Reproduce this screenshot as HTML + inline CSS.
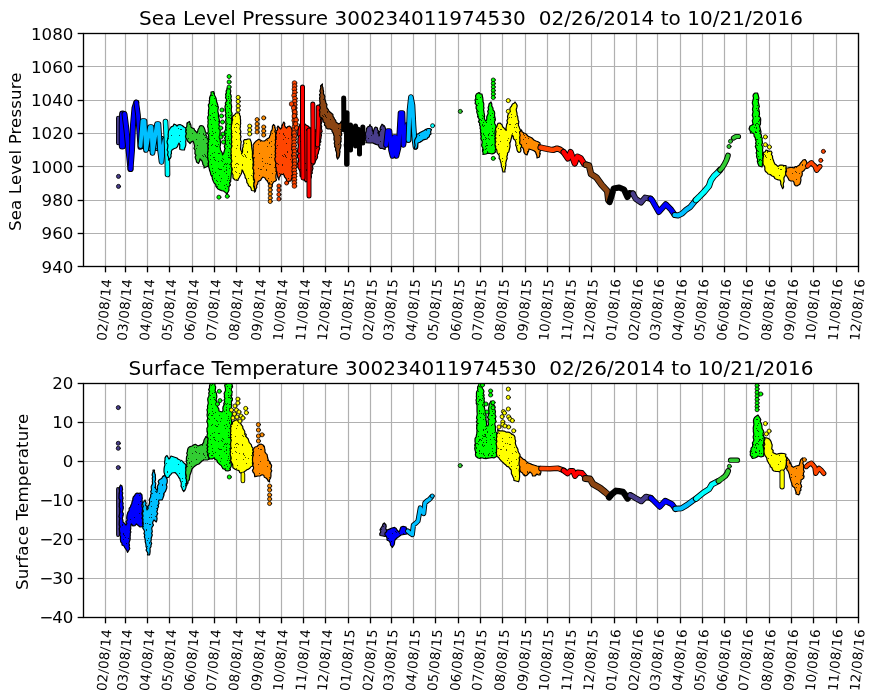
<!DOCTYPE html>
<html><head><meta charset="utf-8"><style>
html,body{margin:0;padding:0;background:#fff;}
svg{display:block;will-change:transform;}
.tk{font-family:'DejaVu Sans', 'Liberation Sans', sans-serif;font-size:16.67px;fill:#000;letter-spacing:0.1px;}
.xt{font-family:'DejaVu Sans', 'Liberation Sans', sans-serif;font-size:13.33px;fill:#000;letter-spacing:0.26px;}
.yt{font-family:'DejaVu Sans', 'Liberation Sans', sans-serif;font-size:16.67px;fill:#000;}
.ti{font-family:'DejaVu Sans', 'Liberation Sans', sans-serif;font-size:20px;fill:#000;letter-spacing:0.04px;}
</style></head><body>
<svg width="877" height="700" viewBox="0 0 877 700">
<defs><pattern id="spk" width="40" height="40" patternUnits="userSpaceOnUse" fill="#000" fill-opacity="0.7"><rect x="20" y="9" width="1" height="1"/><rect x="25" y="3" width="1" height="1"/><rect x="4" y="34" width="1" height="1"/><rect x="6" y="23" width="1" height="1"/><rect x="37" y="3" width="1" height="1"/><rect x="32" y="13" width="1" height="1"/><rect x="2" y="5" width="1" height="1"/><rect x="27" y="26" width="1" height="1"/><rect x="4" y="15" width="1" height="1"/><rect x="5" y="35" width="1" height="1"/><rect x="27" y="3" width="1" height="1"/><rect x="36" y="7" width="1" height="1"/><rect x="14" y="37" width="1" height="1"/><rect x="3" y="36" width="1" height="1"/><rect x="37" y="25" width="1" height="1"/><rect x="3" y="14" width="1" height="1"/><rect x="2" y="35" width="1" height="1"/><rect x="8" y="18" width="1" height="1"/><rect x="26" y="9" width="1" height="1"/><rect x="34" y="7" width="1" height="1"/><rect x="36" y="19" width="1" height="1"/><rect x="35" y="11" width="1" height="1"/><rect x="6" y="37" width="1" height="1"/><rect x="36" y="12" width="1" height="1"/><rect x="23" y="6" width="1" height="1"/><rect x="35" y="4" width="1" height="1"/><rect x="36" y="3" width="1" height="1"/><rect x="39" y="13" width="1" height="1"/><rect x="31" y="34" width="1" height="1"/><rect x="27" y="20" width="1" height="1"/><rect x="29" y="37" width="1" height="1"/><rect x="29" y="23" width="1" height="1"/><rect x="19" y="15" width="1" height="1"/><rect x="11" y="15" width="1" height="1"/><rect x="5" y="36" width="1" height="1"/><rect x="19" y="33" width="1" height="1"/><rect x="31" y="21" width="1" height="1"/><rect x="28" y="18" width="1" height="1"/><rect x="38" y="4" width="1" height="1"/><rect x="7" y="32" width="1" height="1"/><rect x="26" y="10" width="1" height="1"/><rect x="21" y="9" width="1" height="1"/><rect x="31" y="26" width="1" height="1"/><rect x="2" y="4" width="1" height="1"/><rect x="35" y="36" width="1" height="1"/><rect x="20" y="21" width="1" height="1"/><rect x="22" y="38" width="1" height="1"/><rect x="31" y="37" width="1" height="1"/><rect x="29" y="4" width="1" height="1"/><rect x="5" y="17" width="1" height="1"/><rect x="30" y="4" width="1" height="1"/><rect x="3" y="19" width="1" height="1"/><rect x="36" y="28" width="1" height="1"/><rect x="18" y="24" width="1" height="1"/><rect x="22" y="1" width="1" height="1"/><rect x="29" y="22" width="1" height="1"/><rect x="10" y="39" width="1" height="1"/><rect x="7" y="31" width="1" height="1"/><rect x="3" y="13" width="1" height="1"/><rect x="18" y="8" width="1" height="1"/></pattern><pattern id="spk2" width="40" height="40" patternUnits="userSpaceOnUse" fill="#000" fill-opacity="0.75"><rect x="28" y="35" width="1" height="1"/><rect x="29" y="28" width="1" height="1"/><rect x="32" y="37" width="1" height="1"/><rect x="12" y="11" width="1" height="1"/><rect x="32" y="30" width="1" height="1"/><rect x="39" y="11" width="1" height="1"/><rect x="6" y="28" width="1" height="1"/><rect x="19" y="9" width="1" height="1"/><rect x="5" y="34" width="1" height="1"/><rect x="2" y="38" width="1" height="1"/><rect x="25" y="28" width="1" height="1"/><rect x="39" y="10" width="1" height="1"/><rect x="39" y="0" width="1" height="1"/><rect x="33" y="4" width="1" height="1"/><rect x="3" y="2" width="1" height="1"/><rect x="12" y="15" width="1" height="1"/><rect x="38" y="1" width="1" height="1"/><rect x="29" y="20" width="1" height="1"/><rect x="28" y="37" width="1" height="1"/><rect x="12" y="33" width="1" height="1"/><rect x="14" y="18" width="1" height="1"/><rect x="31" y="0" width="1" height="1"/><rect x="5" y="29" width="1" height="1"/><rect x="17" y="26" width="1" height="1"/><rect x="35" y="5" width="1" height="1"/><rect x="16" y="20" width="1" height="1"/><rect x="14" y="32" width="1" height="1"/><rect x="18" y="1" width="1" height="1"/><rect x="4" y="36" width="1" height="1"/><rect x="6" y="25" width="1" height="1"/><rect x="6" y="18" width="1" height="1"/><rect x="24" y="4" width="1" height="1"/><rect x="1" y="0" width="1" height="1"/><rect x="13" y="13" width="1" height="1"/><rect x="3" y="30" width="1" height="1"/><rect x="24" y="25" width="1" height="1"/><rect x="26" y="4" width="1" height="1"/><rect x="36" y="12" width="1" height="1"/><rect x="17" y="21" width="1" height="1"/><rect x="5" y="19" width="1" height="1"/><rect x="21" y="0" width="1" height="1"/><rect x="26" y="7" width="1" height="1"/><rect x="8" y="15" width="1" height="1"/><rect x="6" y="0" width="1" height="1"/><rect x="3" y="29" width="1" height="1"/><rect x="31" y="11" width="1" height="1"/><rect x="35" y="12" width="1" height="1"/><rect x="28" y="32" width="1" height="1"/><rect x="12" y="8" width="1" height="1"/><rect x="26" y="24" width="1" height="1"/><rect x="7" y="25" width="1" height="1"/><rect x="26" y="13" width="1" height="1"/><rect x="0" y="17" width="1" height="1"/><rect x="37" y="19" width="1" height="1"/><rect x="1" y="13" width="1" height="1"/><rect x="11" y="25" width="1" height="1"/><rect x="38" y="36" width="1" height="1"/><rect x="6" y="2" width="1" height="1"/><rect x="9" y="13" width="1" height="1"/><rect x="28" y="16" width="1" height="1"/><rect x="0" y="39" width="1" height="1"/><rect x="21" y="18" width="1" height="1"/><rect x="24" y="4" width="1" height="1"/><rect x="4" y="5" width="1" height="1"/><rect x="13" y="37" width="1" height="1"/><rect x="15" y="0" width="1" height="1"/><rect x="38" y="23" width="1" height="1"/><rect x="23" y="39" width="1" height="1"/><rect x="29" y="8" width="1" height="1"/><rect x="37" y="30" width="1" height="1"/><rect x="36" y="8" width="1" height="1"/><rect x="24" y="11" width="1" height="1"/><rect x="9" y="19" width="1" height="1"/><rect x="14" y="39" width="1" height="1"/><rect x="15" y="12" width="1" height="1"/><rect x="10" y="35" width="1" height="1"/><rect x="12" y="24" width="1" height="1"/><rect x="30" y="38" width="1" height="1"/><rect x="5" y="26" width="1" height="1"/><rect x="3" y="6" width="1" height="1"/><rect x="6" y="2" width="1" height="1"/><rect x="32" y="16" width="1" height="1"/><rect x="15" y="25" width="1" height="1"/><rect x="16" y="26" width="1" height="1"/><rect x="38" y="31" width="1" height="1"/><rect x="18" y="33" width="1" height="1"/><rect x="11" y="4" width="1" height="1"/><rect x="8" y="14" width="1" height="1"/><rect x="30" y="35" width="1" height="1"/><rect x="39" y="39" width="1" height="1"/></pattern><clipPath id="c1"><rect x="83.6" y="33.7" width="774.90" height="232.90"/></clipPath>
<clipPath id="c2"><rect x="83.6" y="383.2" width="774.90" height="234.20"/></clipPath></defs>
<line x1="105.5" y1="33.5" x2="105.5" y2="266.5" stroke="#b0b0b0" stroke-width="1.2"/>
<line x1="125.5" y1="33.5" x2="125.5" y2="266.5" stroke="#b0b0b0" stroke-width="1.2"/>
<line x1="147.5" y1="33.5" x2="147.5" y2="266.5" stroke="#b0b0b0" stroke-width="1.2"/>
<line x1="169.5" y1="33.5" x2="169.5" y2="266.5" stroke="#b0b0b0" stroke-width="1.2"/>
<line x1="192.5" y1="33.5" x2="192.5" y2="266.5" stroke="#b0b0b0" stroke-width="1.2"/>
<line x1="214.5" y1="33.5" x2="214.5" y2="266.5" stroke="#b0b0b0" stroke-width="1.2"/>
<line x1="236.5" y1="33.5" x2="236.5" y2="266.5" stroke="#b0b0b0" stroke-width="1.2"/>
<line x1="259.5" y1="33.5" x2="259.5" y2="266.5" stroke="#b0b0b0" stroke-width="1.2"/>
<line x1="281.5" y1="33.5" x2="281.5" y2="266.5" stroke="#b0b0b0" stroke-width="1.2"/>
<line x1="303.5" y1="33.5" x2="303.5" y2="266.5" stroke="#b0b0b0" stroke-width="1.2"/>
<line x1="325.5" y1="33.5" x2="325.5" y2="266.5" stroke="#b0b0b0" stroke-width="1.2"/>
<line x1="348.5" y1="33.5" x2="348.5" y2="266.5" stroke="#b0b0b0" stroke-width="1.2"/>
<line x1="370.5" y1="33.5" x2="370.5" y2="266.5" stroke="#b0b0b0" stroke-width="1.2"/>
<line x1="391.5" y1="33.5" x2="391.5" y2="266.5" stroke="#b0b0b0" stroke-width="1.2"/>
<line x1="413.5" y1="33.5" x2="413.5" y2="266.5" stroke="#b0b0b0" stroke-width="1.2"/>
<line x1="435.5" y1="33.5" x2="435.5" y2="266.5" stroke="#b0b0b0" stroke-width="1.2"/>
<line x1="458.5" y1="33.5" x2="458.5" y2="266.5" stroke="#b0b0b0" stroke-width="1.2"/>
<line x1="480.5" y1="33.5" x2="480.5" y2="266.5" stroke="#b0b0b0" stroke-width="1.2"/>
<line x1="502.5" y1="33.5" x2="502.5" y2="266.5" stroke="#b0b0b0" stroke-width="1.2"/>
<line x1="525.5" y1="33.5" x2="525.5" y2="266.5" stroke="#b0b0b0" stroke-width="1.2"/>
<line x1="547.5" y1="33.5" x2="547.5" y2="266.5" stroke="#b0b0b0" stroke-width="1.2"/>
<line x1="569.5" y1="33.5" x2="569.5" y2="266.5" stroke="#b0b0b0" stroke-width="1.2"/>
<line x1="591.5" y1="33.5" x2="591.5" y2="266.5" stroke="#b0b0b0" stroke-width="1.2"/>
<line x1="614.5" y1="33.5" x2="614.5" y2="266.5" stroke="#b0b0b0" stroke-width="1.2"/>
<line x1="636.5" y1="33.5" x2="636.5" y2="266.5" stroke="#b0b0b0" stroke-width="1.2"/>
<line x1="657.5" y1="33.5" x2="657.5" y2="266.5" stroke="#b0b0b0" stroke-width="1.2"/>
<line x1="680.5" y1="33.5" x2="680.5" y2="266.5" stroke="#b0b0b0" stroke-width="1.2"/>
<line x1="702.5" y1="33.5" x2="702.5" y2="266.5" stroke="#b0b0b0" stroke-width="1.2"/>
<line x1="724.5" y1="33.5" x2="724.5" y2="266.5" stroke="#b0b0b0" stroke-width="1.2"/>
<line x1="746.5" y1="33.5" x2="746.5" y2="266.5" stroke="#b0b0b0" stroke-width="1.2"/>
<line x1="769.5" y1="33.5" x2="769.5" y2="266.5" stroke="#b0b0b0" stroke-width="1.2"/>
<line x1="791.5" y1="33.5" x2="791.5" y2="266.5" stroke="#b0b0b0" stroke-width="1.2"/>
<line x1="813.5" y1="33.5" x2="813.5" y2="266.5" stroke="#b0b0b0" stroke-width="1.2"/>
<line x1="836.5" y1="33.5" x2="836.5" y2="266.5" stroke="#b0b0b0" stroke-width="1.2"/>
<line x1="858.5" y1="33.5" x2="858.5" y2="266.5" stroke="#b0b0b0" stroke-width="1.2"/>
<line x1="83.5" y1="266.5" x2="858.5" y2="266.5" stroke="#b0b0b0" stroke-width="1.2"/>
<line x1="83.5" y1="233.5" x2="858.5" y2="233.5" stroke="#b0b0b0" stroke-width="1.2"/>
<line x1="83.5" y1="200.5" x2="858.5" y2="200.5" stroke="#b0b0b0" stroke-width="1.2"/>
<line x1="83.5" y1="166.5" x2="858.5" y2="166.5" stroke="#b0b0b0" stroke-width="1.2"/>
<line x1="83.5" y1="133.5" x2="858.5" y2="133.5" stroke="#b0b0b0" stroke-width="1.2"/>
<line x1="83.5" y1="100.5" x2="858.5" y2="100.5" stroke="#b0b0b0" stroke-width="1.2"/>
<line x1="83.5" y1="66.5" x2="858.5" y2="66.5" stroke="#b0b0b0" stroke-width="1.2"/>
<line x1="83.5" y1="33.5" x2="858.5" y2="33.5" stroke="#b0b0b0" stroke-width="1.2"/>
<g clip-path="url(#c1)" stroke-linejoin="round" stroke-linecap="round">
<polyline points="118.3,118 118.3,143" fill="none" stroke="#000" stroke-width="4.6"/>
<polyline points="118.3,118 118.3,143" fill="none" stroke="#483D8B" stroke-width="2.8"/>
<circle cx="118.5" cy="176.4" r="2.05" fill="#483D8B" stroke="#000" stroke-width="0.8"/>
<circle cx="118.5" cy="186.4" r="2.05" fill="#483D8B" stroke="#000" stroke-width="0.8"/>
<polyline points="122.3,146 122.3,125 122.6,114" fill="none" stroke="#000" stroke-width="7"/>
<polyline points="122.3,146 122.3,125 122.6,114" fill="none" stroke="#0000FF" stroke-width="5.2"/>
<polyline points="124.5,114 126.5,130 128.5,150 130.5,169" fill="none" stroke="#000" stroke-width="6"/>
<polyline points="124.5,114 126.5,130 128.5,150 130.5,169" fill="none" stroke="#0000FF" stroke-width="4.2"/>
<polyline points="130.5,169 132,150 133,125 134.5,108 136.3,102.5" fill="none" stroke="#000" stroke-width="6"/>
<polyline points="130.5,169 132,150 133,125 134.5,108 136.3,102.5" fill="none" stroke="#0000FF" stroke-width="4.2"/>
<polyline points="136.3,102.5 138,115 139.5,135 140.3,147" fill="none" stroke="#000" stroke-width="5.6"/>
<polyline points="136.3,102.5 138,115 139.5,135 140.3,147" fill="none" stroke="#0000FF" stroke-width="3.8"/>
<polygon points="141,142 142,140.5 143.7,139.7 144.9,138.4 146,137 148.2,136.4 150,135 151.6,134.2 153.3,134 155,134 156.8,133.8 158.4,134.3 160,135 161.1,136.3 163,136.6 164,138 164.2,139.8 164.8,141.6 164.9,143.4 164.9,145.2 165,147 163.1,147.6 161.6,148.9 160,150 158.3,150.7 156.7,150.3 155,150 153.4,150.8 151.6,150.2 150,151 148.4,150.2 146.8,149.9 145,150 143.2,148.6 141,148 141.3,146 141.6,144" fill="#00BFFF" stroke="#000" stroke-width="1.2"/>
<polygon points="141,142 142,140.5 143.7,139.7 144.9,138.4 146,137 148.2,136.4 150,135 151.6,134.2 153.3,134 155,134 156.8,133.8 158.4,134.3 160,135 161.1,136.3 163,136.6 164,138 164.2,139.8 164.8,141.6 164.9,143.4 164.9,145.2 165,147 163.1,147.6 161.6,148.9 160,150 158.3,150.7 156.7,150.3 155,150 153.4,150.8 151.6,150.2 150,151 148.4,150.2 146.8,149.9 145,150 143.2,148.6 141,148 141.3,146 141.6,144" fill="url(#spk)" stroke="none"/>
<polyline points="140.5,146 142.5,121 144.5,121 146,150 148,138 150,127 151.5,127 152.5,153 154.5,140 157,124 158.5,124 160,150 161.5,162 163,148 164.5,140" fill="none" stroke="#000" stroke-width="5.6"/>
<polyline points="140.5,146 142.5,121 144.5,121 146,150 148,138 150,127 151.5,127 152.5,153 154.5,140 157,124 158.5,124 160,150 161.5,162 163,148 164.5,140" fill="none" stroke="#00BFFF" stroke-width="3.8"/>
<polyline points="165.5,121.5 166.5,140 167.3,160 167.5,174.5" fill="none" stroke="#000" stroke-width="5.6"/>
<polyline points="165.5,121.5 166.5,140 167.3,160 167.5,174.5" fill="none" stroke="#00FFFF" stroke-width="3.8"/>
<polygon points="167.5,140 167.9,138.2 168.3,136.4 168.1,134.6 168.3,132.8 168.5,131 170,128.5 171.2,126.9 173.2,126 174,124 175.7,124.8 177,126 178.3,124.8 180,124.5 182.2,125.5 184,127 186,128 186.3,129.7 186.2,131.4 186.3,133.1 186.5,134.9 186.2,136.6 186.3,138.3 186,140 185.7,141.7 185.9,143.4 185.8,145.1 185.4,146.7 184.7,148.3 184.5,150 182,150 180,149.5 179.6,147.9 179.8,146.2 179.7,144.6 179,143 178.1,144.7 177.5,146.6 176,148 173.9,148.7 172,150 171.3,151.5 171.5,153.2 170.9,154.8 171.1,156.5 170.5,158 168.5,160 168.7,158.2 168.3,156.6 167.5,155 167.9,153.3 168.1,151.7 167.1,150 167.6,148.3 167.8,146.7 167.9,145 167.3,143.3 167,141.7" fill="#00FFFF" stroke="#000" stroke-width="1.2"/>
<polygon points="167.5,140 167.9,138.2 168.3,136.4 168.1,134.6 168.3,132.8 168.5,131 170,128.5 171.2,126.9 173.2,126 174,124 175.7,124.8 177,126 178.3,124.8 180,124.5 182.2,125.5 184,127 186,128 186.3,129.7 186.2,131.4 186.3,133.1 186.5,134.9 186.2,136.6 186.3,138.3 186,140 185.7,141.7 185.9,143.4 185.8,145.1 185.4,146.7 184.7,148.3 184.5,150 182,150 180,149.5 179.6,147.9 179.8,146.2 179.7,144.6 179,143 178.1,144.7 177.5,146.6 176,148 173.9,148.7 172,150 171.3,151.5 171.5,153.2 170.9,154.8 171.1,156.5 170.5,158 168.5,160 168.7,158.2 168.3,156.6 167.5,155 167.9,153.3 168.1,151.7 167.1,150 167.6,148.3 167.8,146.7 167.9,145 167.3,143.3 167,141.7" fill="url(#spk)" stroke="none"/>
<polygon points="186,130 185.8,128.2 186.8,126.5 186.9,124.8 187,123 189.5,121.5 190,123.3 190.9,125.1 191,127 192.3,128.1 194,128.5 194.6,130.2 196,131.5 197,133 197.7,131.3 198,129.5 199,128 199.5,126.3 201,125.5 203,126 204.2,127.9 205,130 205.3,131.6 206.4,133.1 205.8,134.9 207,136.3 207,138 208.5,140 208.9,141.7 209.1,143.3 207.8,145 208.2,146.7 208,148.3 208.3,150 209.2,151.7 208.7,153.3 208.5,155 209,156.7 207.9,158.3 208.7,160 209,161.7 208.1,163.3 208.5,165 207.6,166.4 206,167 204,168 204.1,166.1 202.9,164.5 202.6,162.7 202,161 200,159 199.5,161.3 198.5,163.5 196.5,162 196.2,160.3 195.6,158.7 195.1,157.1 196,155.3 194.9,153.7 195,152 195.1,150.1 193.9,148.4 194.6,146.4 194.2,144.6 193.7,142.8 193,141 191.3,142 190,143.5 188.8,142.2 187.5,141 187,139.4 186,138 185.5,136.4 186,134.8 186.5,133.2 185.6,131.6" fill="#32CD32" stroke="#000" stroke-width="1.2"/>
<polygon points="186,130 185.8,128.2 186.8,126.5 186.9,124.8 187,123 189.5,121.5 190,123.3 190.9,125.1 191,127 192.3,128.1 194,128.5 194.6,130.2 196,131.5 197,133 197.7,131.3 198,129.5 199,128 199.5,126.3 201,125.5 203,126 204.2,127.9 205,130 205.3,131.6 206.4,133.1 205.8,134.9 207,136.3 207,138 208.5,140 208.9,141.7 209.1,143.3 207.8,145 208.2,146.7 208,148.3 208.3,150 209.2,151.7 208.7,153.3 208.5,155 209,156.7 207.9,158.3 208.7,160 209,161.7 208.1,163.3 208.5,165 207.6,166.4 206,167 204,168 204.1,166.1 202.9,164.5 202.6,162.7 202,161 200,159 199.5,161.3 198.5,163.5 196.5,162 196.2,160.3 195.6,158.7 195.1,157.1 196,155.3 194.9,153.7 195,152 195.1,150.1 193.9,148.4 194.6,146.4 194.2,144.6 193.7,142.8 193,141 191.3,142 190,143.5 188.8,142.2 187.5,141 187,139.4 186,138 185.5,136.4 186,134.8 186.5,133.2 185.6,131.6" fill="url(#spk)" stroke="none"/>
<polygon points="208,140 208.6,138.3 208.7,136.7 208.6,135 207.5,133.3 208.3,131.7 208.1,130 208.2,128.3 207.7,126.7 207.8,125 208.2,123.3 207.9,121.7 208.3,120 207.7,118.3 207.8,116.7 208.7,115 208.3,113.3 208.5,111.7 208.5,110 209,108.3 208.6,106.6 208.3,104.8 209.5,103.2 209.3,101.4 209.6,99.7 209.5,98 210.2,96 211.1,94.2 211,92 213.5,91.5 214.3,93.3 214.5,95.3 215.5,97 216.2,98.7 216.4,100.5 216.8,102.3 217.5,104 217.9,105.7 218.4,107.4 218,109.2 217.8,111 218.2,112.8 218.5,114.5 218.4,116.3 218.8,118 219.3,119.7 219.4,121.4 219.3,123.1 218.8,124.8 219.7,126.5 219.9,128.2 220.1,129.9 220.2,131.6 220,133.3 219.8,135 219.8,136.7 219.5,138.4 220.3,140 220.3,141.7 220.5,143.3 220.5,145 220,146.7 220.4,148.3 220.5,150 221.5,151.5 222.3,153.1 222.5,155 223.5,153.5 224.1,151.8 224.5,150 225,148.4 224.3,146.7 224.8,145 225.4,143.4 225,141.7 225.5,140 224.5,138.3 225.7,136.7 224.5,135 225,133.3 224.6,131.6 225.3,130 225.8,128.3 225.6,126.7 226,125 225.8,123.3 226,121.7 225.5,120 226.1,118.3 225.8,116.7 225.2,115 226.1,113.3 225.3,111.7 225.5,110 225.1,108.2 225,106.5 225.6,104.7 225.3,103 226.4,101.3 226.5,99.5 225.5,97.7 226,96 225.6,94.3 226.4,92.8 226.1,91.1 226.9,89.6 227,88 230,87 229.8,88.7 230.7,90.2 230.7,91.9 230.2,93.6 231,95.1 231.3,96.7 230.8,98.4 231.5,100 231.1,101.7 231,103.3 231.3,105 231.7,106.7 231.4,108.3 231.2,110 231.5,111.7 232.1,113.3 232,115 231.9,116.7 231.4,118.3 231.8,120 231.8,121.7 231.4,123.3 232.5,125 231.8,126.7 232.2,128.3 232,130 231.9,131.6 231.5,133.2 232.4,134.8 231.4,136.4 232.6,138 231.9,139.6 231.9,141.2 232.4,142.8 231.9,144.4 232,146 232.1,147.6 231.7,149.2 232.7,150.8 232.2,152.4 231.6,154 232.5,155.6 231.5,157.2 232.4,158.8 231.7,160.4 232.5,162 232.1,163.6 232.1,165.2 232.6,166.8 231.7,168.4 232,170 231.8,171.6 231.3,173.2 231.3,174.8 231.1,176.4 231,178 230.7,179.7 230.7,181.5 229.6,183.1 230.4,185 229.1,186.5 228.8,188.2 229,190 228.4,191.5 227.5,192.9 227.3,194.5 226.2,193.2 224.9,192.1 223.6,191 221.6,190.6 219.8,189.9 218,189 216.9,187.7 215.9,186.3 215.8,184.4 214.3,183.3 213.5,181.8 212.9,180.3 212.3,178.7 212.2,176.9 211.2,175.6 210.6,174 210.3,172.2 209.6,170.6 209.3,168.8 208.7,167.1 208.6,165.3 208.3,163.6 208.8,161.7 208,160 208,158.3 207.5,156.7 207.9,155 207.5,153.3 208.1,151.7 207.9,150 208.5,148.3 207.7,146.7 208.5,145 207.6,143.3 208.7,141.7" fill="#00FF00" stroke="#000" stroke-width="1.2"/>
<polygon points="208,140 208.6,138.3 208.7,136.7 208.6,135 207.5,133.3 208.3,131.7 208.1,130 208.2,128.3 207.7,126.7 207.8,125 208.2,123.3 207.9,121.7 208.3,120 207.7,118.3 207.8,116.7 208.7,115 208.3,113.3 208.5,111.7 208.5,110 209,108.3 208.6,106.6 208.3,104.8 209.5,103.2 209.3,101.4 209.6,99.7 209.5,98 210.2,96 211.1,94.2 211,92 213.5,91.5 214.3,93.3 214.5,95.3 215.5,97 216.2,98.7 216.4,100.5 216.8,102.3 217.5,104 217.9,105.7 218.4,107.4 218,109.2 217.8,111 218.2,112.8 218.5,114.5 218.4,116.3 218.8,118 219.3,119.7 219.4,121.4 219.3,123.1 218.8,124.8 219.7,126.5 219.9,128.2 220.1,129.9 220.2,131.6 220,133.3 219.8,135 219.8,136.7 219.5,138.4 220.3,140 220.3,141.7 220.5,143.3 220.5,145 220,146.7 220.4,148.3 220.5,150 221.5,151.5 222.3,153.1 222.5,155 223.5,153.5 224.1,151.8 224.5,150 225,148.4 224.3,146.7 224.8,145 225.4,143.4 225,141.7 225.5,140 224.5,138.3 225.7,136.7 224.5,135 225,133.3 224.6,131.6 225.3,130 225.8,128.3 225.6,126.7 226,125 225.8,123.3 226,121.7 225.5,120 226.1,118.3 225.8,116.7 225.2,115 226.1,113.3 225.3,111.7 225.5,110 225.1,108.2 225,106.5 225.6,104.7 225.3,103 226.4,101.3 226.5,99.5 225.5,97.7 226,96 225.6,94.3 226.4,92.8 226.1,91.1 226.9,89.6 227,88 230,87 229.8,88.7 230.7,90.2 230.7,91.9 230.2,93.6 231,95.1 231.3,96.7 230.8,98.4 231.5,100 231.1,101.7 231,103.3 231.3,105 231.7,106.7 231.4,108.3 231.2,110 231.5,111.7 232.1,113.3 232,115 231.9,116.7 231.4,118.3 231.8,120 231.8,121.7 231.4,123.3 232.5,125 231.8,126.7 232.2,128.3 232,130 231.9,131.6 231.5,133.2 232.4,134.8 231.4,136.4 232.6,138 231.9,139.6 231.9,141.2 232.4,142.8 231.9,144.4 232,146 232.1,147.6 231.7,149.2 232.7,150.8 232.2,152.4 231.6,154 232.5,155.6 231.5,157.2 232.4,158.8 231.7,160.4 232.5,162 232.1,163.6 232.1,165.2 232.6,166.8 231.7,168.4 232,170 231.8,171.6 231.3,173.2 231.3,174.8 231.1,176.4 231,178 230.7,179.7 230.7,181.5 229.6,183.1 230.4,185 229.1,186.5 228.8,188.2 229,190 228.4,191.5 227.5,192.9 227.3,194.5 226.2,193.2 224.9,192.1 223.6,191 221.6,190.6 219.8,189.9 218,189 216.9,187.7 215.9,186.3 215.8,184.4 214.3,183.3 213.5,181.8 212.9,180.3 212.3,178.7 212.2,176.9 211.2,175.6 210.6,174 210.3,172.2 209.6,170.6 209.3,168.8 208.7,167.1 208.6,165.3 208.3,163.6 208.8,161.7 208,160 208,158.3 207.5,156.7 207.9,155 207.5,153.3 208.1,151.7 207.9,150 208.5,148.3 207.7,146.7 208.5,145 207.6,143.3 208.7,141.7" fill="url(#spk)" stroke="none"/>
<polygon points="208,140 208.6,138.3 208.7,136.7 208.6,135 207.5,133.3 208.3,131.7 208.1,130 208.2,128.3 207.7,126.7 207.8,125 208.2,123.3 207.9,121.7 208.3,120 207.7,118.3 207.8,116.7 208.7,115 208.3,113.3 208.5,111.7 208.5,110 209,108.3 208.6,106.6 208.3,104.8 209.5,103.2 209.3,101.4 209.6,99.7 209.5,98 210.2,96 211.1,94.2 211,92 213.5,91.5 214.3,93.3 214.5,95.3 215.5,97 216.2,98.7 216.4,100.5 216.8,102.3 217.5,104 217.9,105.7 218.4,107.4 218,109.2 217.8,111 218.2,112.8 218.5,114.5 218.4,116.3 218.8,118 219.3,119.7 219.4,121.4 219.3,123.1 218.8,124.8 219.7,126.5 219.9,128.2 220.1,129.9 220.2,131.6 220,133.3 219.8,135 219.8,136.7 219.5,138.4 220.3,140 220.3,141.7 220.5,143.3 220.5,145 220,146.7 220.4,148.3 220.5,150 221.5,151.5 222.3,153.1 222.5,155 223.5,153.5 224.1,151.8 224.5,150 225,148.4 224.3,146.7 224.8,145 225.4,143.4 225,141.7 225.5,140 224.5,138.3 225.7,136.7 224.5,135 225,133.3 224.6,131.6 225.3,130 225.8,128.3 225.6,126.7 226,125 225.8,123.3 226,121.7 225.5,120 226.1,118.3 225.8,116.7 225.2,115 226.1,113.3 225.3,111.7 225.5,110 225.1,108.2 225,106.5 225.6,104.7 225.3,103 226.4,101.3 226.5,99.5 225.5,97.7 226,96 225.6,94.3 226.4,92.8 226.1,91.1 226.9,89.6 227,88 230,87 229.8,88.7 230.7,90.2 230.7,91.9 230.2,93.6 231,95.1 231.3,96.7 230.8,98.4 231.5,100 231.1,101.7 231,103.3 231.3,105 231.7,106.7 231.4,108.3 231.2,110 231.5,111.7 232.1,113.3 232,115 231.9,116.7 231.4,118.3 231.8,120 231.8,121.7 231.4,123.3 232.5,125 231.8,126.7 232.2,128.3 232,130 231.9,131.6 231.5,133.2 232.4,134.8 231.4,136.4 232.6,138 231.9,139.6 231.9,141.2 232.4,142.8 231.9,144.4 232,146 232.1,147.6 231.7,149.2 232.7,150.8 232.2,152.4 231.6,154 232.5,155.6 231.5,157.2 232.4,158.8 231.7,160.4 232.5,162 232.1,163.6 232.1,165.2 232.6,166.8 231.7,168.4 232,170 231.8,171.6 231.3,173.2 231.3,174.8 231.1,176.4 231,178 230.7,179.7 230.7,181.5 229.6,183.1 230.4,185 229.1,186.5 228.8,188.2 229,190 228.4,191.5 227.5,192.9 227.3,194.5 226.2,193.2 224.9,192.1 223.6,191 221.6,190.6 219.8,189.9 218,189 216.9,187.7 215.9,186.3 215.8,184.4 214.3,183.3 213.5,181.8 212.9,180.3 212.3,178.7 212.2,176.9 211.2,175.6 210.6,174 210.3,172.2 209.6,170.6 209.3,168.8 208.7,167.1 208.6,165.3 208.3,163.6 208.8,161.7 208,160 208,158.3 207.5,156.7 207.9,155 207.5,153.3 208.1,151.7 207.9,150 208.5,148.3 207.7,146.7 208.5,145 207.6,143.3 208.7,141.7" fill="url(#spk2)" stroke="none"/>
<circle cx="229.1" cy="76.5" r="2.05" fill="#00FF00" stroke="#000" stroke-width="0.8"/>
<circle cx="229.1" cy="82" r="2.05" fill="#00FF00" stroke="#000" stroke-width="0.8"/>
<circle cx="229.1" cy="87" r="2.05" fill="#00FF00" stroke="#000" stroke-width="0.8"/>
<circle cx="218.9" cy="197.2" r="2.05" fill="#00FF00" stroke="#000" stroke-width="0.8"/>
<circle cx="227.3" cy="196.3" r="2.05" fill="#00FF00" stroke="#000" stroke-width="0.8"/>
<circle cx="221.5" cy="116" r="2.05" fill="#00FF00" stroke="#000" stroke-width="0.8"/>
<circle cx="222.5" cy="122" r="2.05" fill="#00FF00" stroke="#000" stroke-width="0.8"/>
<circle cx="223" cy="134" r="2.05" fill="#00FF00" stroke="#000" stroke-width="0.8"/>
<circle cx="221" cy="137" r="2.05" fill="#00FF00" stroke="#000" stroke-width="0.8"/>
<circle cx="222" cy="110" r="2.05" fill="#00FF00" stroke="#000" stroke-width="0.8"/>
<circle cx="223.5" cy="142" r="2.05" fill="#00FF00" stroke="#000" stroke-width="0.8"/>
<circle cx="220.8" cy="128" r="2.05" fill="#00FF00" stroke="#000" stroke-width="0.8"/>
<polygon points="231.5,125 232,123.2 232,121.4 232.7,119.7 232.1,117.7 233,116 234.7,114.7 236,113 237.8,112.8 239.5,113 239.5,114.8 240.4,116.5 240.3,118.4 240.6,120.2 240.5,122 240.7,123.6 240.2,125.3 240.5,126.9 239.9,128.5 240.4,130.2 240.9,131.8 240.3,133.5 240.5,135.1 241,136.7 240.5,138.4 240.5,140 241.3,141.7 240.9,143.5 240.8,145.3 240.7,147 240.5,148.8 241.1,150.5 242,152.2 241.5,154 242.5,152 242.6,150.2 242.4,148.5 243.2,146.8 243,145 244,143.3 243.4,141.2 244.5,139.5 246.3,139.6 248,139 250,139 250.8,140.9 251.4,142.9 251.5,145 251.7,146.8 251.9,148.7 252.3,150.5 252.5,152.3 252.4,154.2 252.5,156 252.4,157.8 253.2,159.5 253.1,161.2 253.4,163 252.8,164.8 253.6,166.5 253,168.3 253.5,170 254.2,171.6 253.2,173.3 253.8,174.8 253.2,176.5 253.5,178.1 253.5,179.7 254.7,181.3 253.8,182.9 254.2,184.5 253.7,186.2 254.3,187.8 254.6,189.4 254.5,191 251.5,190.5 251.1,188.6 250.4,186.9 248.5,185.8 248,184 246.9,182.6 246.7,180.8 246.4,179.1 245.2,177.8 245,176 244.4,174.4 243.6,173 243.1,171.3 242,170 241.8,172.2 241.1,174.2 240,176 239.3,177.5 238.3,178.9 238,180.5 235,180 233,178 232.9,176.4 233,174.7 232.1,173.2 231.6,171.6 232.3,169.8 232.1,168.2 231,166.7 231.5,165 230.9,163.4 231.8,161.8 231.7,160.2 231.1,158.6 231.2,157 231.4,155.4 230.8,153.8 231.2,152.2 231.1,150.6 230.9,149 231.5,147.4 232.1,145.8 230.9,144.2 231.8,142.6 231.7,141 231.2,139.4 231.7,137.8 231.9,136.2 231.2,134.6 231.4,133 231.7,131.4 231.4,129.8 231.1,128.2 231.4,126.6" fill="#FFFF00" stroke="#000" stroke-width="1.2"/>
<polygon points="231.5,125 232,123.2 232,121.4 232.7,119.7 232.1,117.7 233,116 234.7,114.7 236,113 237.8,112.8 239.5,113 239.5,114.8 240.4,116.5 240.3,118.4 240.6,120.2 240.5,122 240.7,123.6 240.2,125.3 240.5,126.9 239.9,128.5 240.4,130.2 240.9,131.8 240.3,133.5 240.5,135.1 241,136.7 240.5,138.4 240.5,140 241.3,141.7 240.9,143.5 240.8,145.3 240.7,147 240.5,148.8 241.1,150.5 242,152.2 241.5,154 242.5,152 242.6,150.2 242.4,148.5 243.2,146.8 243,145 244,143.3 243.4,141.2 244.5,139.5 246.3,139.6 248,139 250,139 250.8,140.9 251.4,142.9 251.5,145 251.7,146.8 251.9,148.7 252.3,150.5 252.5,152.3 252.4,154.2 252.5,156 252.4,157.8 253.2,159.5 253.1,161.2 253.4,163 252.8,164.8 253.6,166.5 253,168.3 253.5,170 254.2,171.6 253.2,173.3 253.8,174.8 253.2,176.5 253.5,178.1 253.5,179.7 254.7,181.3 253.8,182.9 254.2,184.5 253.7,186.2 254.3,187.8 254.6,189.4 254.5,191 251.5,190.5 251.1,188.6 250.4,186.9 248.5,185.8 248,184 246.9,182.6 246.7,180.8 246.4,179.1 245.2,177.8 245,176 244.4,174.4 243.6,173 243.1,171.3 242,170 241.8,172.2 241.1,174.2 240,176 239.3,177.5 238.3,178.9 238,180.5 235,180 233,178 232.9,176.4 233,174.7 232.1,173.2 231.6,171.6 232.3,169.8 232.1,168.2 231,166.7 231.5,165 230.9,163.4 231.8,161.8 231.7,160.2 231.1,158.6 231.2,157 231.4,155.4 230.8,153.8 231.2,152.2 231.1,150.6 230.9,149 231.5,147.4 232.1,145.8 230.9,144.2 231.8,142.6 231.7,141 231.2,139.4 231.7,137.8 231.9,136.2 231.2,134.6 231.4,133 231.7,131.4 231.4,129.8 231.1,128.2 231.4,126.6" fill="url(#spk)" stroke="none"/>
<circle cx="238.2" cy="97.4" r="2.05" fill="#FFFF00" stroke="#000" stroke-width="0.8"/>
<circle cx="238.2" cy="101.5" r="2.05" fill="#FFFF00" stroke="#000" stroke-width="0.8"/>
<circle cx="238.2" cy="106" r="2.05" fill="#FFFF00" stroke="#000" stroke-width="0.8"/>
<circle cx="238.2" cy="110" r="2.05" fill="#FFFF00" stroke="#000" stroke-width="0.8"/>
<circle cx="249.7" cy="126.1" r="2.05" fill="#FFFF00" stroke="#000" stroke-width="0.8"/>
<circle cx="249.7" cy="130" r="2.05" fill="#FFFF00" stroke="#000" stroke-width="0.8"/>
<circle cx="249.7" cy="134" r="2.05" fill="#FFFF00" stroke="#000" stroke-width="0.8"/>
<polygon points="253,145 254.6,142.6 255.8,141.3 257.3,140.3 258.7,139.3 260.4,140.1 262,141 264.5,140.9 267,139 269.4,137.6 269.7,136 270.5,134.6 270.8,133 270.9,131.3 272,130 272.4,128.1 272.4,126.2 273.5,124.5 274.8,126 275,128 275.5,129.7 274.8,131.5 275.7,133.1 275.8,134.9 275.5,136.6 275.7,138.4 276.5,140 276.4,141.6 276.9,143.2 276.5,144.8 276.7,146.4 275.9,148 277.2,149.6 276.7,151.2 276.2,152.8 276.4,154.4 276.4,156 276.1,157.6 276.9,159.2 276,160.8 275.9,162.4 277.2,164 276.7,165.6 276.7,167.2 276.7,168.8 276.4,170.4 276.8,172 276.3,173.6 276,175.2 275.9,176.8 276,178.4 276.5,180 275.2,181.3 273.5,182 272.7,183.5 272.1,185.1 271.9,186.8 271.3,188.3 271,190 270.4,188.4 270.7,186.6 270,185 268.6,183.7 267.8,182 266.9,180.6 265.7,179.5 265,178 262.9,177 261.6,178.3 260.8,180.1 259,181 257.9,182 257.7,183.9 256.6,185.5 256.8,187.5 255.7,189.1 255.5,191 254.6,192 254.9,190.3 254.5,188.6 254.4,186.9 253.8,185.2 254,183.5 254.6,181.8 254.5,180.1 253.8,178.4 253.5,176.7 253.5,175 254.1,173.3 253.5,171.7 253.8,170 252.8,168.3 253,166.7 253.8,165 253.4,163.3 253.7,161.7 253.2,160 253.8,158.3 252.5,156.7 252.8,155 253.3,153.3 253.1,151.7 253.3,150 253,148.3 253.3,146.7" fill="#FF8C00" stroke="#000" stroke-width="1.2"/>
<polygon points="253,145 254.6,142.6 255.8,141.3 257.3,140.3 258.7,139.3 260.4,140.1 262,141 264.5,140.9 267,139 269.4,137.6 269.7,136 270.5,134.6 270.8,133 270.9,131.3 272,130 272.4,128.1 272.4,126.2 273.5,124.5 274.8,126 275,128 275.5,129.7 274.8,131.5 275.7,133.1 275.8,134.9 275.5,136.6 275.7,138.4 276.5,140 276.4,141.6 276.9,143.2 276.5,144.8 276.7,146.4 275.9,148 277.2,149.6 276.7,151.2 276.2,152.8 276.4,154.4 276.4,156 276.1,157.6 276.9,159.2 276,160.8 275.9,162.4 277.2,164 276.7,165.6 276.7,167.2 276.7,168.8 276.4,170.4 276.8,172 276.3,173.6 276,175.2 275.9,176.8 276,178.4 276.5,180 275.2,181.3 273.5,182 272.7,183.5 272.1,185.1 271.9,186.8 271.3,188.3 271,190 270.4,188.4 270.7,186.6 270,185 268.6,183.7 267.8,182 266.9,180.6 265.7,179.5 265,178 262.9,177 261.6,178.3 260.8,180.1 259,181 257.9,182 257.7,183.9 256.6,185.5 256.8,187.5 255.7,189.1 255.5,191 254.6,192 254.9,190.3 254.5,188.6 254.4,186.9 253.8,185.2 254,183.5 254.6,181.8 254.5,180.1 253.8,178.4 253.5,176.7 253.5,175 254.1,173.3 253.5,171.7 253.8,170 252.8,168.3 253,166.7 253.8,165 253.4,163.3 253.7,161.7 253.2,160 253.8,158.3 252.5,156.7 252.8,155 253.3,153.3 253.1,151.7 253.3,150 253,148.3 253.3,146.7" fill="url(#spk)" stroke="none"/>
<circle cx="257.1" cy="119.6" r="2.05" fill="#FF8C00" stroke="#000" stroke-width="0.8"/>
<circle cx="257.1" cy="124" r="2.05" fill="#FF8C00" stroke="#000" stroke-width="0.8"/>
<circle cx="257.1" cy="128" r="2.05" fill="#FF8C00" stroke="#000" stroke-width="0.8"/>
<circle cx="257.1" cy="132" r="2.05" fill="#FF8C00" stroke="#000" stroke-width="0.8"/>
<circle cx="263.7" cy="117.9" r="2.05" fill="#FF8C00" stroke="#000" stroke-width="0.8"/>
<circle cx="263.7" cy="127" r="2.05" fill="#FF8C00" stroke="#000" stroke-width="0.8"/>
<circle cx="263.7" cy="131" r="2.05" fill="#FF8C00" stroke="#000" stroke-width="0.8"/>
<circle cx="263.7" cy="135" r="2.05" fill="#FF8C00" stroke="#000" stroke-width="0.8"/>
<circle cx="270.2" cy="186" r="2.05" fill="#FF8C00" stroke="#000" stroke-width="0.8"/>
<circle cx="270.2" cy="190" r="2.05" fill="#FF8C00" stroke="#000" stroke-width="0.8"/>
<circle cx="270.2" cy="194" r="2.05" fill="#FF8C00" stroke="#000" stroke-width="0.8"/>
<circle cx="270.2" cy="198" r="2.05" fill="#FF8C00" stroke="#000" stroke-width="0.8"/>
<circle cx="270.2" cy="201.5" r="2.05" fill="#FF8C00" stroke="#000" stroke-width="0.8"/>
<polygon points="275.5,135 276.6,133.4 276,131.3 277.6,129.8 277.1,127.7 277.9,126 279.2,127.5 280.5,129 281.8,127.5 281.9,125.4 282.9,123.8 283.7,122 284.8,123.3 284.5,125.3 285.2,126.8 286.5,128 287.7,126.6 289.5,126 291.2,127.7 292,130 292.1,131.6 292,133.2 291.7,134.8 292.3,136.4 292,138 292.6,139.6 292.5,141.2 292.7,142.8 292.1,144.4 292.1,146 292.1,147.6 291.6,149.2 292.5,150.8 292.5,152.4 292.4,154 291.7,155.6 292.6,157.2 292.7,158.8 292.5,160.4 292.1,162 292.7,163.6 292.9,165.2 292.1,166.8 292.4,168.4 292.5,170 292.1,171.8 292.7,173.8 292.1,175.5 292.1,177.4 291.4,179.2 291,181 289.2,181.2 288,182.5 286.6,181.9 286.6,179.9 285.8,178.3 284.5,176.8 284,175 281,174 280.2,176 279.1,177.8 279,180 278.1,178.1 277.5,176 277,174 277,172.2 276.2,170.4 276.1,168.6 275.6,166.8 275.5,165 276,163.3 275.5,161.7 274.9,160 274.8,158.3 275.7,156.7 275,155 275.7,153.3 275.1,151.7 275.5,150 275.3,148.3 275.7,146.7 275,145 275.4,143.3 275.7,141.7 275.2,140 276.2,138.3 276.2,136.7" fill="#FF4500" stroke="#000" stroke-width="1.2"/>
<polygon points="275.5,135 276.6,133.4 276,131.3 277.6,129.8 277.1,127.7 277.9,126 279.2,127.5 280.5,129 281.8,127.5 281.9,125.4 282.9,123.8 283.7,122 284.8,123.3 284.5,125.3 285.2,126.8 286.5,128 287.7,126.6 289.5,126 291.2,127.7 292,130 292.1,131.6 292,133.2 291.7,134.8 292.3,136.4 292,138 292.6,139.6 292.5,141.2 292.7,142.8 292.1,144.4 292.1,146 292.1,147.6 291.6,149.2 292.5,150.8 292.5,152.4 292.4,154 291.7,155.6 292.6,157.2 292.7,158.8 292.5,160.4 292.1,162 292.7,163.6 292.9,165.2 292.1,166.8 292.4,168.4 292.5,170 292.1,171.8 292.7,173.8 292.1,175.5 292.1,177.4 291.4,179.2 291,181 289.2,181.2 288,182.5 286.6,181.9 286.6,179.9 285.8,178.3 284.5,176.8 284,175 281,174 280.2,176 279.1,177.8 279,180 278.1,178.1 277.5,176 277,174 277,172.2 276.2,170.4 276.1,168.6 275.6,166.8 275.5,165 276,163.3 275.5,161.7 274.9,160 274.8,158.3 275.7,156.7 275,155 275.7,153.3 275.1,151.7 275.5,150 275.3,148.3 275.7,146.7 275,145 275.4,143.3 275.7,141.7 275.2,140 276.2,138.3 276.2,136.7" fill="url(#spk)" stroke="none"/>
<g fill="#FF4500" stroke="#000" stroke-width="0.7">
<circle cx="294.5" cy="83.0" r="2.35"/><circle cx="294.6" cy="86.1" r="2.35"/><circle cx="294.4" cy="89.2" r="2.35"/><circle cx="294.8" cy="92.4" r="2.35"/><circle cx="294.1" cy="95.5" r="2.35"/><circle cx="294.9" cy="98.6" r="2.35"/><circle cx="294.7" cy="101.7" r="2.35"/><circle cx="294.7" cy="104.8" r="2.35"/><circle cx="294.7" cy="108.0" r="2.35"/><circle cx="294.3" cy="111.1" r="2.35"/><circle cx="294.8" cy="114.2" r="2.35"/><circle cx="294.6" cy="117.3" r="2.35"/><circle cx="294.2" cy="120.5" r="2.35"/><circle cx="294.8" cy="123.6" r="2.35"/><circle cx="294.5" cy="126.7" r="2.35"/><circle cx="294.7" cy="129.8" r="2.35"/><circle cx="294.2" cy="132.9" r="2.35"/><circle cx="294.6" cy="136.1" r="2.35"/><circle cx="294.1" cy="139.2" r="2.35"/><circle cx="294.2" cy="142.3" r="2.35"/><circle cx="294.2" cy="145.4" r="2.35"/><circle cx="294.1" cy="148.5" r="2.35"/><circle cx="294.6" cy="151.7" r="2.35"/><circle cx="294.3" cy="154.8" r="2.35"/><circle cx="294.3" cy="157.9" r="2.35"/><circle cx="294.8" cy="161.0" r="2.35"/><circle cx="294.7" cy="164.2" r="2.35"/><circle cx="294.4" cy="167.3" r="2.35"/><circle cx="294.3" cy="170.4" r="2.35"/><circle cx="294.7" cy="173.5" r="2.35"/><circle cx="294.5" cy="176.6" r="2.35"/><circle cx="294.4" cy="179.8" r="2.35"/><circle cx="294.3" cy="182.9" r="2.35"/><circle cx="294.4" cy="186.0" r="2.35"/>
</g>
<g fill="#FF4500" stroke="#000" stroke-width="0.7">
<circle cx="291.6" cy="104.0" r="2.35"/><circle cx="293.7" cy="108.0" r="2.35"/><circle cx="294.8" cy="112.0" r="2.35"/><circle cx="294.3" cy="116.0" r="2.35"/><circle cx="296.1" cy="120.0" r="2.35"/><circle cx="295.7" cy="124.0" r="2.35"/><circle cx="296.7" cy="128.0" r="2.35"/>
</g>
<circle cx="278.9" cy="186" r="2.05" fill="#FF4500" stroke="#000" stroke-width="0.8"/>
<circle cx="278.9" cy="190" r="2.05" fill="#FF4500" stroke="#000" stroke-width="0.8"/>
<circle cx="278.9" cy="194.5" r="2.05" fill="#FF4500" stroke="#000" stroke-width="0.8"/>
<circle cx="278.9" cy="199" r="2.05" fill="#FF4500" stroke="#000" stroke-width="0.8"/>
<circle cx="286.6" cy="183" r="2.05" fill="#FF4500" stroke="#000" stroke-width="0.8"/>
<polygon points="298,130 298.6,128 299.2,126 300,124 301.7,123.4 303.3,124.4 305,124 306.4,125.2 308,126 309.4,127.2 311,128 312.7,128.6 314.2,129.6 316,130 317.2,128.5 317.6,126.8 317.8,124.9 319.2,123.5 319.1,121.6 320,120 321.5,118 322.1,119.7 321.8,121.4 321.5,123.1 321,124.8 321.7,126.5 321.3,128.2 321.8,129.9 322.2,131.6 320.8,133.3 321.5,135 321.1,136.6 321,138.3 320.4,140 320.9,141.8 319.6,143.2 320.1,145 318.9,146.6 319.7,148.4 319,150 318.5,151.7 318.3,153.4 317.3,155 317.6,156.8 317.1,158.5 316,160 315.2,161.8 314.5,163.7 313,165 312.3,166.6 313,168.3 312.5,169.9 312,171.5 312.3,173.2 310.9,174.7 311.5,176.4 311,178 309.7,178.9 308.8,180.3 307.5,181.3 306,182 304,180 302.8,178.5 301.5,177.1 300,176 300.1,174.1 300,172.2 299.6,170.4 298.6,168.7 297.7,167 298,165 297.5,163.3 298.5,161.7 298.7,160 298.1,158.3 297.3,156.7 297.7,155 298.3,153.3 297.6,151.7 297.7,150 297.9,148.3 298.3,146.7 298.3,145 297.9,143.3 297.8,141.7 298,140 297.9,138.3 298.7,136.7 297.4,135 297.8,133.3 297.8,131.7" fill="#FF0000" stroke="#000" stroke-width="1.2"/>
<polygon points="298,130 298.6,128 299.2,126 300,124 301.7,123.4 303.3,124.4 305,124 306.4,125.2 308,126 309.4,127.2 311,128 312.7,128.6 314.2,129.6 316,130 317.2,128.5 317.6,126.8 317.8,124.9 319.2,123.5 319.1,121.6 320,120 321.5,118 322.1,119.7 321.8,121.4 321.5,123.1 321,124.8 321.7,126.5 321.3,128.2 321.8,129.9 322.2,131.6 320.8,133.3 321.5,135 321.1,136.6 321,138.3 320.4,140 320.9,141.8 319.6,143.2 320.1,145 318.9,146.6 319.7,148.4 319,150 318.5,151.7 318.3,153.4 317.3,155 317.6,156.8 317.1,158.5 316,160 315.2,161.8 314.5,163.7 313,165 312.3,166.6 313,168.3 312.5,169.9 312,171.5 312.3,173.2 310.9,174.7 311.5,176.4 311,178 309.7,178.9 308.8,180.3 307.5,181.3 306,182 304,180 302.8,178.5 301.5,177.1 300,176 300.1,174.1 300,172.2 299.6,170.4 298.6,168.7 297.7,167 298,165 297.5,163.3 298.5,161.7 298.7,160 298.1,158.3 297.3,156.7 297.7,155 298.3,153.3 297.6,151.7 297.7,150 297.9,148.3 298.3,146.7 298.3,145 297.9,143.3 297.8,141.7 298,140 297.9,138.3 298.7,136.7 297.4,135 297.8,133.3 297.8,131.7" fill="url(#spk)" stroke="none"/>
<polyline points="302.5,87 302.5,120 302.8,150 303,178" fill="none" stroke="#000" stroke-width="5"/>
<polyline points="302.5,87 302.5,120 302.8,150 303,178" fill="none" stroke="#FF0000" stroke-width="3.2"/>
<polyline points="309,130 309,165 309,196" fill="none" stroke="#000" stroke-width="5"/>
<polyline points="309,130 309,165 309,196" fill="none" stroke="#FF0000" stroke-width="3.2"/>
<polyline points="312.8,104 313,130 313,162" fill="none" stroke="#000" stroke-width="5"/>
<polyline points="312.8,104 313,130 313,162" fill="none" stroke="#FF0000" stroke-width="3.2"/>
<polyline points="318.3,107 318.3,125 317.5,145" fill="none" stroke="#000" stroke-width="5"/>
<polyline points="318.3,107 318.3,125 317.5,145" fill="none" stroke="#FF0000" stroke-width="3.2"/>
<polygon points="319.8,100 319.5,98.2 320.1,96.5 319.5,94.7 320.7,93 319.8,91.2 320.3,89.5 320.8,87.8 320.5,86 322.5,84 322.2,85.9 323,87.7 323.1,89.5 323.6,91.3 323.4,93.2 324.2,95 324.9,96.5 324.6,98.3 325.1,99.9 325.6,101.5 326,103.1 327,104.6 326.6,106.4 327,108 328.1,109.3 328.9,110.8 330,112 331.5,113.2 332.9,114.5 333,116.2 333.9,117.6 334.6,119.1 335.7,120.4 336,122 337.3,122.9 338.5,124 340.4,122.9 341.5,121 341.8,122.7 342.2,124.5 342,126.2 342,128 342.4,129.8 341.3,131.4 341.3,133.1 341.8,134.9 340.7,136.5 341.2,138.3 341,140 341.1,141.7 340.2,143.3 341,145 340.7,146.7 340.3,148.3 339.6,150 340.1,151.7 339.7,153.3 339.6,155 339,157.2 337.5,159 336.8,157.3 336.5,155.4 336.6,153.5 336.3,151.7 335.5,150 335.7,148.2 334.6,146.6 334.8,144.9 334.2,143.2 334.8,141.4 334,139.7 334,138 334.2,136.2 333.6,134.7 333.3,133.1 332.1,131.7 331.9,130 330.1,128.9 328,129 326.1,128 325.8,126.3 324.4,125 324.8,123 323.1,121.8 323,120 322,118 320,117 319.7,115.3 319.6,113.6 320,111.9 319.3,110.2 320.2,108.5 320.2,106.8 319.3,105.1 320.2,103.4 319.8,101.7" fill="#8B4513" stroke="#000" stroke-width="1.2"/>
<polygon points="319.8,100 319.5,98.2 320.1,96.5 319.5,94.7 320.7,93 319.8,91.2 320.3,89.5 320.8,87.8 320.5,86 322.5,84 322.2,85.9 323,87.7 323.1,89.5 323.6,91.3 323.4,93.2 324.2,95 324.9,96.5 324.6,98.3 325.1,99.9 325.6,101.5 326,103.1 327,104.6 326.6,106.4 327,108 328.1,109.3 328.9,110.8 330,112 331.5,113.2 332.9,114.5 333,116.2 333.9,117.6 334.6,119.1 335.7,120.4 336,122 337.3,122.9 338.5,124 340.4,122.9 341.5,121 341.8,122.7 342.2,124.5 342,126.2 342,128 342.4,129.8 341.3,131.4 341.3,133.1 341.8,134.9 340.7,136.5 341.2,138.3 341,140 341.1,141.7 340.2,143.3 341,145 340.7,146.7 340.3,148.3 339.6,150 340.1,151.7 339.7,153.3 339.6,155 339,157.2 337.5,159 336.8,157.3 336.5,155.4 336.6,153.5 336.3,151.7 335.5,150 335.7,148.2 334.6,146.6 334.8,144.9 334.2,143.2 334.8,141.4 334,139.7 334,138 334.2,136.2 333.6,134.7 333.3,133.1 332.1,131.7 331.9,130 330.1,128.9 328,129 326.1,128 325.8,126.3 324.4,125 324.8,123 323.1,121.8 323,120 322,118 320,117 319.7,115.3 319.6,113.6 320,111.9 319.3,110.2 320.2,108.5 320.2,106.8 319.3,105.1 320.2,103.4 319.8,101.7" fill="url(#spk)" stroke="none"/>
<polygon points="345,128 346.4,126.6 348.1,125.6 350,125 351.5,126.1 353.3,126.4 355,127 356.7,127 358.4,127.4 360,128 361.5,128.7 363.1,129.1 364.5,130 364.2,131.8 365,133.7 364.7,135.5 364.8,137.3 364.1,139.2 364.5,141 362.8,141.2 361.5,142.3 360,143 358.1,143.2 356.9,144.9 355,145 353.2,145.4 351.8,146.7 350,147 348.4,147.8 346.7,147.6 345,148 344.4,146.3 344.3,144.7 344.7,143 345.1,141.3 345.2,139.7 345.4,138 344.8,136.3 345.2,134.7 345.7,133 345.6,131.3 344.6,129.7" fill="#000000" stroke="#000" stroke-width="1.2"/>
<polygon points="345,128 346.4,126.6 348.1,125.6 350,125 351.5,126.1 353.3,126.4 355,127 356.7,127 358.4,127.4 360,128 361.5,128.7 363.1,129.1 364.5,130 364.2,131.8 365,133.7 364.7,135.5 364.8,137.3 364.1,139.2 364.5,141 362.8,141.2 361.5,142.3 360,143 358.1,143.2 356.9,144.9 355,145 353.2,145.4 351.8,146.7 350,147 348.4,147.8 346.7,147.6 345,148 344.4,146.3 344.3,144.7 344.7,143 345.1,141.3 345.2,139.7 345.4,138 344.8,136.3 345.2,134.7 345.7,133 345.6,131.3 344.6,129.7" fill="url(#spk)" stroke="none"/>
<polyline points="343.7,98 343.9,130" fill="none" stroke="#000" stroke-width="5"/>
<polyline points="343.7,98 343.9,130" fill="none" stroke="#000000" stroke-width="3.2"/>
<polyline points="346.8,113 346.8,140 346.8,164" fill="none" stroke="#000" stroke-width="5.5"/>
<polyline points="346.8,113 346.8,140 346.8,164" fill="none" stroke="#000000" stroke-width="3.7"/>
<polyline points="350.5,125 350.5,150" fill="none" stroke="#000" stroke-width="5"/>
<polyline points="350.5,125 350.5,150" fill="none" stroke="#000000" stroke-width="3.2"/>
<polyline points="355.5,126 355.5,146" fill="none" stroke="#000" stroke-width="5"/>
<polyline points="355.5,126 355.5,146" fill="none" stroke="#000000" stroke-width="3.2"/>
<polyline points="359.5,135 359.5,154" fill="none" stroke="#000" stroke-width="5"/>
<polyline points="359.5,135 359.5,154" fill="none" stroke="#000000" stroke-width="3.2"/>
<polyline points="362.8,127 362.8,143" fill="none" stroke="#000" stroke-width="5"/>
<polyline points="362.8,127 362.8,143" fill="none" stroke="#000000" stroke-width="3.2"/>
<polygon points="365.5,133 366.3,131 366.4,128.9 367.5,127 369.2,126.2 370,124.5 370.5,126.1 372,127 372.3,128.7 372.4,130.5 373.3,132.2 373.2,134 373.3,131.9 373.8,129.9 374.5,128 375.7,127 377.5,128 377.5,129.6 378.5,131.1 377.8,132.9 379.3,134.3 379,136 378.9,134.1 379,132.3 380.3,130.7 380,128.8 380.5,127 382,124.2 384.5,126 385.3,128 386,130 386.3,131.7 385.9,133.3 386.3,135 386.6,136.7 386.4,138.3 386.6,140 386.9,141.6 386,143.3 386.5,145 385.5,147.2 385,149.5 383.5,148.9 382,148.3 380.3,148.5 379,146.8 378,145 376,144.4 374.2,143.6 372.3,142.8 370.7,143 369,143 366,142.6 366.2,141 365.1,139.4 365.7,137.8 365.7,136.2 365.4,134.6" fill="#483D8B" stroke="#000" stroke-width="1.2"/>
<polygon points="365.5,133 366.3,131 366.4,128.9 367.5,127 369.2,126.2 370,124.5 370.5,126.1 372,127 372.3,128.7 372.4,130.5 373.3,132.2 373.2,134 373.3,131.9 373.8,129.9 374.5,128 375.7,127 377.5,128 377.5,129.6 378.5,131.1 377.8,132.9 379.3,134.3 379,136 378.9,134.1 379,132.3 380.3,130.7 380,128.8 380.5,127 382,124.2 384.5,126 385.3,128 386,130 386.3,131.7 385.9,133.3 386.3,135 386.6,136.7 386.4,138.3 386.6,140 386.9,141.6 386,143.3 386.5,145 385.5,147.2 385,149.5 383.5,148.9 382,148.3 380.3,148.5 379,146.8 378,145 376,144.4 374.2,143.6 372.3,142.8 370.7,143 369,143 366,142.6 366.2,141 365.1,139.4 365.7,137.8 365.7,136.2 365.4,134.6" fill="url(#spk)" stroke="none"/>
<polyline points="386,145 387.5,131 389.5,131 391,150 392.5,156 394,137 395.5,137 396.5,156 398.5,148 400.5,113 402.5,113 403.5,145 405.5,130 407,125 408.5,140" fill="none" stroke="#000" stroke-width="5.6"/>
<polyline points="386,145 387.5,131 389.5,131 391,150 392.5,156 394,137 395.5,137 396.5,156 398.5,148 400.5,113 402.5,113 403.5,145 405.5,130 407,125 408.5,140" fill="none" stroke="#0000FF" stroke-width="3.8"/>
<polyline points="408.5,140 409.5,110 410.9,97 412.5,105 413.5,125 414.5,140 415.5,147" fill="none" stroke="#000" stroke-width="5.6"/>
<polyline points="408.5,140 409.5,110 410.9,97 412.5,105 413.5,125 414.5,140 415.5,147" fill="none" stroke="#00BFFF" stroke-width="3.8"/>
<polygon points="414.5,142 414.7,140 415.6,138.3 416.6,136.5 416.5,134.5 418.4,133.7 420,132.5 422,131.5 424,130.5 425.9,129.3 428,128.5 429.9,128.5 431.5,129.5 430.6,131.7 431,134 429.7,135 429.3,136.7 427.9,137.7 427,139 425.2,139.4 423.5,139.8 422,141 420.1,142.3 418,143 417.8,145.1 417.4,147.1 416.5,149 414.5,149 414.6,147.2 415.1,145.5 414.8,143.8" fill="#00BFFF" stroke="#000" stroke-width="1.2"/>
<polygon points="414.5,142 414.7,140 415.6,138.3 416.6,136.5 416.5,134.5 418.4,133.7 420,132.5 422,131.5 424,130.5 425.9,129.3 428,128.5 429.9,128.5 431.5,129.5 430.6,131.7 431,134 429.7,135 429.3,136.7 427.9,137.7 427,139 425.2,139.4 423.5,139.8 422,141 420.1,142.3 418,143 417.8,145.1 417.4,147.1 416.5,149 414.5,149 414.6,147.2 415.1,145.5 414.8,143.8" fill="url(#spk)" stroke="none"/>
<circle cx="432.6" cy="125.7" r="2.05" fill="#00FFFF" stroke="#000" stroke-width="0.8"/>
<circle cx="460.3" cy="111.4" r="2.05" fill="#32CD32" stroke="#000" stroke-width="0.8"/>
<polygon points="475,100 475.9,98.1 475.5,95.9 476.4,94 479,92.5 480.2,93.8 482,94 482.3,96 482.8,98 483,100 483,101.6 483.7,103.2 483.8,104.8 483.6,106.4 484,108 483.5,109.7 483.9,111.3 484.1,112.9 484.4,114.5 484.6,116.1 484.3,117.7 484.7,119.5 485.7,121 486.8,119.2 486.7,116.9 487.5,115 488.2,113.2 487.7,111.3 488.6,109.5 488.1,107.6 488.8,105.8 489,104 491,102 491.8,104 491.8,106.2 493,108 493,109.8 494.3,111.4 494.7,113.1 494.5,115 494.7,116.7 495.2,118.3 495.4,120 494.5,121.7 494.7,123.4 495.5,125 496.2,126.7 496.2,128.4 495.3,130.1 494.9,131.8 495,133.4 495.2,135.1 495.2,136.8 495.5,138.5 495.5,140.2 495,141.9 496,143.6 495.2,145.2 495.2,146.9 496,148.6 495.1,150.3 495.5,152 494,153.4 492,154 490,153.5 487.9,153.1 486,154 482.9,154.5 483.1,152.9 482.5,151.3 482.6,149.7 482.9,148 481.9,146.5 481.6,144.9 482.1,143.2 482.2,141.6 481.5,140 480.8,138.4 481.4,136.6 480.7,135 480.9,133.3 480.4,131.7 480.8,129.9 480,128.3 480.4,126.6 479.5,125 479.9,123.2 478.4,121.8 479.3,119.9 478.7,118.3 477.6,116.7 477.9,115 477.2,113.4 476.7,111.8 477,110 476.1,108.5 476.1,106.7 476.5,104.9 475.1,103.5 475.5,101.6" fill="#00FF00" stroke="#000" stroke-width="1.2"/>
<polygon points="475,100 475.9,98.1 475.5,95.9 476.4,94 479,92.5 480.2,93.8 482,94 482.3,96 482.8,98 483,100 483,101.6 483.7,103.2 483.8,104.8 483.6,106.4 484,108 483.5,109.7 483.9,111.3 484.1,112.9 484.4,114.5 484.6,116.1 484.3,117.7 484.7,119.5 485.7,121 486.8,119.2 486.7,116.9 487.5,115 488.2,113.2 487.7,111.3 488.6,109.5 488.1,107.6 488.8,105.8 489,104 491,102 491.8,104 491.8,106.2 493,108 493,109.8 494.3,111.4 494.7,113.1 494.5,115 494.7,116.7 495.2,118.3 495.4,120 494.5,121.7 494.7,123.4 495.5,125 496.2,126.7 496.2,128.4 495.3,130.1 494.9,131.8 495,133.4 495.2,135.1 495.2,136.8 495.5,138.5 495.5,140.2 495,141.9 496,143.6 495.2,145.2 495.2,146.9 496,148.6 495.1,150.3 495.5,152 494,153.4 492,154 490,153.5 487.9,153.1 486,154 482.9,154.5 483.1,152.9 482.5,151.3 482.6,149.7 482.9,148 481.9,146.5 481.6,144.9 482.1,143.2 482.2,141.6 481.5,140 480.8,138.4 481.4,136.6 480.7,135 480.9,133.3 480.4,131.7 480.8,129.9 480,128.3 480.4,126.6 479.5,125 479.9,123.2 478.4,121.8 479.3,119.9 478.7,118.3 477.6,116.7 477.9,115 477.2,113.4 476.7,111.8 477,110 476.1,108.5 476.1,106.7 476.5,104.9 475.1,103.5 475.5,101.6" fill="url(#spk)" stroke="none"/>
<polygon points="475,100 475.9,98.1 475.5,95.9 476.4,94 479,92.5 480.2,93.8 482,94 482.3,96 482.8,98 483,100 483,101.6 483.7,103.2 483.8,104.8 483.6,106.4 484,108 483.5,109.7 483.9,111.3 484.1,112.9 484.4,114.5 484.6,116.1 484.3,117.7 484.7,119.5 485.7,121 486.8,119.2 486.7,116.9 487.5,115 488.2,113.2 487.7,111.3 488.6,109.5 488.1,107.6 488.8,105.8 489,104 491,102 491.8,104 491.8,106.2 493,108 493,109.8 494.3,111.4 494.7,113.1 494.5,115 494.7,116.7 495.2,118.3 495.4,120 494.5,121.7 494.7,123.4 495.5,125 496.2,126.7 496.2,128.4 495.3,130.1 494.9,131.8 495,133.4 495.2,135.1 495.2,136.8 495.5,138.5 495.5,140.2 495,141.9 496,143.6 495.2,145.2 495.2,146.9 496,148.6 495.1,150.3 495.5,152 494,153.4 492,154 490,153.5 487.9,153.1 486,154 482.9,154.5 483.1,152.9 482.5,151.3 482.6,149.7 482.9,148 481.9,146.5 481.6,144.9 482.1,143.2 482.2,141.6 481.5,140 480.8,138.4 481.4,136.6 480.7,135 480.9,133.3 480.4,131.7 480.8,129.9 480,128.3 480.4,126.6 479.5,125 479.9,123.2 478.4,121.8 479.3,119.9 478.7,118.3 477.6,116.7 477.9,115 477.2,113.4 476.7,111.8 477,110 476.1,108.5 476.1,106.7 476.5,104.9 475.1,103.5 475.5,101.6" fill="url(#spk2)" stroke="none"/>
<circle cx="493.3" cy="80" r="2.05" fill="#00FF00" stroke="#000" stroke-width="0.8"/>
<circle cx="493.3" cy="83.5" r="2.05" fill="#00FF00" stroke="#000" stroke-width="0.8"/>
<circle cx="493.3" cy="87" r="2.05" fill="#00FF00" stroke="#000" stroke-width="0.8"/>
<circle cx="493.3" cy="90.5" r="2.05" fill="#00FF00" stroke="#000" stroke-width="0.8"/>
<circle cx="493.3" cy="94" r="2.05" fill="#00FF00" stroke="#000" stroke-width="0.8"/>
<circle cx="493.3" cy="97.5" r="2.05" fill="#00FF00" stroke="#000" stroke-width="0.8"/>
<circle cx="493.3" cy="158.4" r="2.05" fill="#00FF00" stroke="#000" stroke-width="0.8"/>
<polygon points="495.5,130 495.6,128.2 496.8,126.7 497.2,125 497.9,123.4 500,123 502.1,124.9 502.6,126.8 504,128 505.5,130 506.1,128 506.4,126 506.7,124.2 507.5,122.4 506.9,120.5 507.9,118.7 507.5,116.8 507.9,115 508.7,113.3 509.6,111.7 509.9,109.9 510,108 511.4,106.1 512.5,104 514,103.3 515,102 516.5,104 517.2,105.8 516.8,107.7 516.2,109.5 516.5,111.3 517,113.2 517,115 517.7,116.6 517.9,118.3 518.1,120 518.8,121.6 518.6,123.4 518.4,125.3 519.2,126.9 519.7,128.6 520.6,130.2 520.5,132 520.8,133.6 520.7,135.3 521.1,136.9 520.9,138.5 520.9,140.2 520.4,141.8 520.2,143.5 521.6,145.1 521.4,146.7 520.5,148.4 521,150 520.5,151.7 519,152.5 517.7,151.5 517,150 516.8,148.3 516.4,146.7 515.6,145.1 516,143.3 515.6,141.6 515,140 513.4,138.7 513.3,136.5 512,135 511.8,136.7 511.3,138.3 510.9,140 510.5,141.6 509.9,143.3 510,145 510,146.8 509.6,148.4 509.2,150.1 508.8,151.8 507.5,153.2 507.5,155 506.8,156.6 507.2,158.4 506.5,160 506.1,161.6 505.7,163.3 506,165 505.4,166.7 505.4,168.5 504.8,170.2 505,172 503,172 502.4,170.3 502.3,168.4 501.5,166.7 501.3,164.8 501,163 500.4,161.4 500.2,159.8 499.1,158.4 499.3,156.6 499,155 498,153.8 497,152.5 496.8,150.1 495.5,148 495.8,146.4 495,144.7 495.3,143.1 495.9,141.5 494.9,139.8 496,138.2 494.9,136.5 495.7,134.9 495.6,133.3 496.1,131.6" fill="#FFFF00" stroke="#000" stroke-width="1.2"/>
<polygon points="495.5,130 495.6,128.2 496.8,126.7 497.2,125 497.9,123.4 500,123 502.1,124.9 502.6,126.8 504,128 505.5,130 506.1,128 506.4,126 506.7,124.2 507.5,122.4 506.9,120.5 507.9,118.7 507.5,116.8 507.9,115 508.7,113.3 509.6,111.7 509.9,109.9 510,108 511.4,106.1 512.5,104 514,103.3 515,102 516.5,104 517.2,105.8 516.8,107.7 516.2,109.5 516.5,111.3 517,113.2 517,115 517.7,116.6 517.9,118.3 518.1,120 518.8,121.6 518.6,123.4 518.4,125.3 519.2,126.9 519.7,128.6 520.6,130.2 520.5,132 520.8,133.6 520.7,135.3 521.1,136.9 520.9,138.5 520.9,140.2 520.4,141.8 520.2,143.5 521.6,145.1 521.4,146.7 520.5,148.4 521,150 520.5,151.7 519,152.5 517.7,151.5 517,150 516.8,148.3 516.4,146.7 515.6,145.1 516,143.3 515.6,141.6 515,140 513.4,138.7 513.3,136.5 512,135 511.8,136.7 511.3,138.3 510.9,140 510.5,141.6 509.9,143.3 510,145 510,146.8 509.6,148.4 509.2,150.1 508.8,151.8 507.5,153.2 507.5,155 506.8,156.6 507.2,158.4 506.5,160 506.1,161.6 505.7,163.3 506,165 505.4,166.7 505.4,168.5 504.8,170.2 505,172 503,172 502.4,170.3 502.3,168.4 501.5,166.7 501.3,164.8 501,163 500.4,161.4 500.2,159.8 499.1,158.4 499.3,156.6 499,155 498,153.8 497,152.5 496.8,150.1 495.5,148 495.8,146.4 495,144.7 495.3,143.1 495.9,141.5 494.9,139.8 496,138.2 494.9,136.5 495.7,134.9 495.6,133.3 496.1,131.6" fill="url(#spk)" stroke="none"/>
<circle cx="508.3" cy="100.6" r="2.05" fill="#FFFF00" stroke="#000" stroke-width="0.8"/>
<circle cx="508.3" cy="111.3" r="2.05" fill="#FFFF00" stroke="#000" stroke-width="0.8"/>
<polygon points="519.5,132 521.5,130 522.3,131.9 524,133 525.7,133.7 527,135 528.3,136.4 530,137 531.7,137.8 533,139 534.3,140.3 536,141 538.1,141.8 540,143 540.1,145 540.5,147 540.2,148.7 540.9,150.4 539.7,152 540.3,153.7 539.7,155.3 539.5,157 537,158 536.9,155.9 536.2,154 535.5,152 533.9,150.7 532,150 529,149 528.6,151.1 527.7,153 527,155 525,154 523.9,152.1 523.7,150 523,148 521.6,147 521.5,145 520,144 519.6,142.3 520,140.6 519.8,138.9 519.6,137.1 520.2,135.4 519.8,133.7" fill="#FF8C00" stroke="#000" stroke-width="1.2"/>
<polygon points="519.5,132 521.5,130 522.3,131.9 524,133 525.7,133.7 527,135 528.3,136.4 530,137 531.7,137.8 533,139 534.3,140.3 536,141 538.1,141.8 540,143 540.1,145 540.5,147 540.2,148.7 540.9,150.4 539.7,152 540.3,153.7 539.7,155.3 539.5,157 537,158 536.9,155.9 536.2,154 535.5,152 533.9,150.7 532,150 529,149 528.6,151.1 527.7,153 527,155 525,154 523.9,152.1 523.7,150 523,148 521.6,147 521.5,145 520,144 519.6,142.3 520,140.6 519.8,138.9 519.6,137.1 520.2,135.4 519.8,133.7" fill="url(#spk)" stroke="none"/>
<polyline points="540.5,147.5 545,148.5 550,149.5 553,150 557,148.5 560,149.5 563.5,152" fill="none" stroke="#000" stroke-width="6.2"/>
<polyline points="540.5,147.5 545,148.5 550,149.5 553,150 557,148.5 560,149.5 563.5,152" fill="none" stroke="#FF4500" stroke-width="4.4"/>
<polyline points="563.5,152 567.9,158.5 570.6,152 574.7,163.5 577.4,156.6 580.5,158 584.2,164 587,165" fill="none" stroke="#000" stroke-width="6.2"/>
<polyline points="563.5,152 567.9,158.5 570.6,152 574.7,163.5 577.4,156.6 580.5,158 584.2,164 587,165" fill="none" stroke="#FF0000" stroke-width="4.4"/>
<polyline points="586,164.8 589,165.5 591,174 596.4,177.5 601.8,185 605.5,189 607.3,191 608.3,200" fill="none" stroke="#000" stroke-width="6.6"/>
<polyline points="586,164.8 589,165.5 591,174 596.4,177.5 601.8,185 605.5,189 607.3,191 608.3,200" fill="none" stroke="#8B4513" stroke-width="4.8"/>
<polyline points="609.6,202 611.5,196 613.7,188.5 619.2,187.5 624,189.5 627.4,197 629.4,193 632.8,193.5" fill="none" stroke="#000" stroke-width="6.2"/>
<polyline points="609.6,202 611.5,196 613.7,188.5 619.2,187.5 624,189.5 627.4,197 629.4,193 632.8,193.5" fill="none" stroke="#000000" stroke-width="4.4"/>
<polyline points="632.8,193.5 635.6,198.7 641,202.5 645.1,197.6 650.6,198.7" fill="none" stroke="#000" stroke-width="6"/>
<polyline points="632.8,193.5 635.6,198.7 641,202.5 645.1,197.6 650.6,198.7" fill="none" stroke="#483D8B" stroke-width="4.2"/>
<polyline points="650.6,198.7 652,200.1 658.8,212 665.7,204.2 671.1,209.7 674.6,214.8" fill="none" stroke="#000" stroke-width="6"/>
<polyline points="650.6,198.7 652,200.1 658.8,212 665.7,204.2 671.1,209.7 674.6,214.8" fill="none" stroke="#0000FF" stroke-width="4.2"/>
<polyline points="674.6,215 678,215.5 682.1,213.6 686.2,209.7 690.3,206.9 695.8,200.1" fill="none" stroke="#000" stroke-width="6"/>
<polyline points="674.6,215 678,215.5 682.1,213.6 686.2,209.7 690.3,206.9 695.8,200.1" fill="none" stroke="#00BFFF" stroke-width="4.2"/>
<polyline points="695.8,200.1 700,196 704,191.9 709,186 710.8,180.5 714,176 717.6,172.7 720,170" fill="none" stroke="#000" stroke-width="6.4"/>
<polyline points="695.8,200.1 700,196 704,191.9 709,186 710.8,180.5 714,176 717.6,172.7 720,170" fill="none" stroke="#00FFFF" stroke-width="4.6"/>
<polyline points="720,170 722,168 724.5,164 726.5,160 728,155.5" fill="none" stroke="#000" stroke-width="5.6"/>
<polyline points="720,170 722,168 724.5,164 726.5,160 728,155.5" fill="none" stroke="#32CD32" stroke-width="3.8"/>
<circle cx="729" cy="146.5" r="2.05" fill="#32CD32" stroke="#000" stroke-width="0.8"/>
<circle cx="730.5" cy="141.3" r="2.05" fill="#32CD32" stroke="#000" stroke-width="0.8"/>
<polyline points="733.5,138 736,136.5 738.5,136.5" fill="none" stroke="#000" stroke-width="5.2"/>
<polyline points="733.5,138 736,136.5 738.5,136.5" fill="none" stroke="#32CD32" stroke-width="3.4"/>
<polygon points="753,96 753.5,94.2 755,93 757.5,93 758.1,94.7 758.5,96.4 758.9,98.2 758.5,100 758.2,101.7 758.6,103.3 758.9,105 759.4,106.6 758.5,108.4 759,110 759.4,112 759.5,114 759,116 760.5,118 760.7,120 760.5,122 760.5,124.1 759.5,126 760.1,128 760.5,130 761,132 760.5,133.7 761.5,135.2 761.4,136.8 762.3,138.3 762,140 762.4,141.7 762.4,143.3 761.6,145 762.8,146.6 762.8,148.3 762.5,150 762.8,151.7 762.6,153.3 762.6,155 763.3,156.6 762.7,158.3 763,160 763,161.8 762.4,163.5 762.4,165.3 762,167 759,166 758.3,164.5 757.7,162.9 757.3,161.3 757.7,159.5 757,158 756.5,156.4 756.9,154.6 756.1,153 756.8,151.3 756.5,149.6 756,148 755.3,146.4 756.2,144.8 755.6,143.2 756.2,141.6 755.5,140 755.3,137.9 754.1,136.1 754,134 752.4,133 750.5,133 750.2,130.8 749,129 750,126 751.7,125.3 753,124 752.6,122.3 752.3,120.5 753.1,118.7 752.9,117 752.3,115.3 752.6,113.5 753.1,111.7 752.5,110 752.6,108.3 753.1,106.5 752.8,104.8 752.3,103 752.6,101.2 753.2,99.5 753.5,97.8" fill="#00FF00" stroke="#000" stroke-width="1.2"/>
<polygon points="753,96 753.5,94.2 755,93 757.5,93 758.1,94.7 758.5,96.4 758.9,98.2 758.5,100 758.2,101.7 758.6,103.3 758.9,105 759.4,106.6 758.5,108.4 759,110 759.4,112 759.5,114 759,116 760.5,118 760.7,120 760.5,122 760.5,124.1 759.5,126 760.1,128 760.5,130 761,132 760.5,133.7 761.5,135.2 761.4,136.8 762.3,138.3 762,140 762.4,141.7 762.4,143.3 761.6,145 762.8,146.6 762.8,148.3 762.5,150 762.8,151.7 762.6,153.3 762.6,155 763.3,156.6 762.7,158.3 763,160 763,161.8 762.4,163.5 762.4,165.3 762,167 759,166 758.3,164.5 757.7,162.9 757.3,161.3 757.7,159.5 757,158 756.5,156.4 756.9,154.6 756.1,153 756.8,151.3 756.5,149.6 756,148 755.3,146.4 756.2,144.8 755.6,143.2 756.2,141.6 755.5,140 755.3,137.9 754.1,136.1 754,134 752.4,133 750.5,133 750.2,130.8 749,129 750,126 751.7,125.3 753,124 752.6,122.3 752.3,120.5 753.1,118.7 752.9,117 752.3,115.3 752.6,113.5 753.1,111.7 752.5,110 752.6,108.3 753.1,106.5 752.8,104.8 752.3,103 752.6,101.2 753.2,99.5 753.5,97.8" fill="url(#spk)" stroke="none"/>
<polygon points="753,96 753.5,94.2 755,93 757.5,93 758.1,94.7 758.5,96.4 758.9,98.2 758.5,100 758.2,101.7 758.6,103.3 758.9,105 759.4,106.6 758.5,108.4 759,110 759.4,112 759.5,114 759,116 760.5,118 760.7,120 760.5,122 760.5,124.1 759.5,126 760.1,128 760.5,130 761,132 760.5,133.7 761.5,135.2 761.4,136.8 762.3,138.3 762,140 762.4,141.7 762.4,143.3 761.6,145 762.8,146.6 762.8,148.3 762.5,150 762.8,151.7 762.6,153.3 762.6,155 763.3,156.6 762.7,158.3 763,160 763,161.8 762.4,163.5 762.4,165.3 762,167 759,166 758.3,164.5 757.7,162.9 757.3,161.3 757.7,159.5 757,158 756.5,156.4 756.9,154.6 756.1,153 756.8,151.3 756.5,149.6 756,148 755.3,146.4 756.2,144.8 755.6,143.2 756.2,141.6 755.5,140 755.3,137.9 754.1,136.1 754,134 752.4,133 750.5,133 750.2,130.8 749,129 750,126 751.7,125.3 753,124 752.6,122.3 752.3,120.5 753.1,118.7 752.9,117 752.3,115.3 752.6,113.5 753.1,111.7 752.5,110 752.6,108.3 753.1,106.5 752.8,104.8 752.3,103 752.6,101.2 753.2,99.5 753.5,97.8" fill="url(#spk2)" stroke="none"/>
<polygon points="763.5,152.5 765.2,151.7 766,150 767.6,150.6 769,151.5 771,151 772,152.5 771.4,154.5 772.5,156 772.6,158.1 773.3,160 774,162 774.9,163.9 776.5,165.1 778,166.5 779.8,165.1 782,165 784,165.6 786,165.5 786.1,167.8 786.5,170 785.5,171.9 785.8,174.1 785,176 784,177.6 783.9,179.4 784.2,181.3 783.5,183 783.2,184.9 783.6,186.9 782.7,188.7 781.5,186 780.7,184.1 780.8,181.9 780,180 778.2,179.9 776.4,179.3 774.8,178.4 773.8,176.6 772,176 770.3,174.5 768,174 766.9,172.5 765.4,171.4 764.8,169.8 764.9,168.1 764.6,166.4 763.5,165 762.9,163.2 763,161.4 762.9,159.6 763.1,157.9 763.4,156.1 763.3,154.3" fill="#FFFF00" stroke="#000" stroke-width="1.2"/>
<polygon points="763.5,152.5 765.2,151.7 766,150 767.6,150.6 769,151.5 771,151 772,152.5 771.4,154.5 772.5,156 772.6,158.1 773.3,160 774,162 774.9,163.9 776.5,165.1 778,166.5 779.8,165.1 782,165 784,165.6 786,165.5 786.1,167.8 786.5,170 785.5,171.9 785.8,174.1 785,176 784,177.6 783.9,179.4 784.2,181.3 783.5,183 783.2,184.9 783.6,186.9 782.7,188.7 781.5,186 780.7,184.1 780.8,181.9 780,180 778.2,179.9 776.4,179.3 774.8,178.4 773.8,176.6 772,176 770.3,174.5 768,174 766.9,172.5 765.4,171.4 764.8,169.8 764.9,168.1 764.6,166.4 763.5,165 762.9,163.2 763,161.4 762.9,159.6 763.1,157.9 763.4,156.1 763.3,154.3" fill="url(#spk)" stroke="none"/>
<circle cx="765.4" cy="136.9" r="2.05" fill="#FFFF00" stroke="#000" stroke-width="0.8"/>
<circle cx="765.4" cy="144.7" r="2.05" fill="#FFFF00" stroke="#000" stroke-width="0.8"/>
<circle cx="769.4" cy="147" r="2.05" fill="#FFFF00" stroke="#000" stroke-width="0.8"/>
<polygon points="786,168 788,167.9 790,167.5 792,167.4 794,168 795.2,166.6 797,166.5 799.4,165 800.3,163.4 801.5,162 803,160 805,159.5 806.3,161.1 807,163 806.7,164.7 807.9,166.3 807.5,168 805,169 803.8,170.8 802,172 802.3,173.7 802.1,175.3 801.1,176.8 800.7,178.3 801,180 800.6,182 800,184 798.6,185.1 797,186 795.3,185.6 794.3,184.2 794,182.4 793,181 790.6,181 788.9,179.9 788,178 787,176.5 786,175 785.5,173.2 786.5,171.5 786.2,169.8" fill="#FF8C00" stroke="#000" stroke-width="1.2"/>
<polygon points="786,168 788,167.9 790,167.5 792,167.4 794,168 795.2,166.6 797,166.5 799.4,165 800.3,163.4 801.5,162 803,160 805,159.5 806.3,161.1 807,163 806.7,164.7 807.9,166.3 807.5,168 805,169 803.8,170.8 802,172 802.3,173.7 802.1,175.3 801.1,176.8 800.7,178.3 801,180 800.6,182 800,184 798.6,185.1 797,186 795.3,185.6 794.3,184.2 794,182.4 793,181 790.6,181 788.9,179.9 788,178 787,176.5 786,175 785.5,173.2 786.5,171.5 786.2,169.8" fill="url(#spk)" stroke="none"/>
<polyline points="807.5,166 809.5,164 811.4,162.6 813,164.5 814.9,166 816.6,170.3 818.5,168 820,166.4" fill="none" stroke="#000" stroke-width="5.2"/>
<polyline points="807.5,166 809.5,164 811.4,162.6 813,164.5 814.9,166 816.6,170.3 818.5,168 820,166.4" fill="none" stroke="#FF4500" stroke-width="3.4"/>
<circle cx="820.8" cy="160.4" r="2.05" fill="#FF4500" stroke="#000" stroke-width="0.8"/>
<circle cx="823.4" cy="151.4" r="2.05" fill="#FF4500" stroke="#000" stroke-width="0.8"/>
</g>
<rect x="83.5" y="33.5" width="775.0" height="233.0" fill="none" stroke="#000" stroke-width="1.33"/>
<line x1="105.5" y1="266.5" x2="105.5" y2="272.33" stroke="#000" stroke-width="1.33"/>
<text transform="translate(111.53,279.34) rotate(-85)" text-anchor="end" class="xt">02/08/14</text>
<line x1="125.5" y1="266.5" x2="125.5" y2="272.33" stroke="#000" stroke-width="1.33"/>
<text transform="translate(131.93,279.34) rotate(-85)" text-anchor="end" class="xt">03/08/14</text>
<line x1="147.5" y1="266.5" x2="147.5" y2="272.33" stroke="#000" stroke-width="1.33"/>
<text transform="translate(154.51,279.34) rotate(-85)" text-anchor="end" class="xt">04/08/14</text>
<line x1="169.5" y1="266.5" x2="169.5" y2="272.33" stroke="#000" stroke-width="1.33"/>
<text transform="translate(176.36,279.34) rotate(-85)" text-anchor="end" class="xt">05/08/14</text>
<line x1="192.5" y1="266.5" x2="192.5" y2="272.33" stroke="#000" stroke-width="1.33"/>
<text transform="translate(198.94,279.34) rotate(-85)" text-anchor="end" class="xt">06/08/14</text>
<line x1="214.5" y1="266.5" x2="214.5" y2="272.33" stroke="#000" stroke-width="1.33"/>
<text transform="translate(220.79,279.34) rotate(-85)" text-anchor="end" class="xt">07/08/14</text>
<line x1="236.5" y1="266.5" x2="236.5" y2="272.33" stroke="#000" stroke-width="1.33"/>
<text transform="translate(243.37,279.34) rotate(-85)" text-anchor="end" class="xt">08/08/14</text>
<line x1="259.5" y1="266.5" x2="259.5" y2="272.33" stroke="#000" stroke-width="1.33"/>
<text transform="translate(265.95,279.34) rotate(-85)" text-anchor="end" class="xt">09/08/14</text>
<line x1="281.5" y1="266.5" x2="281.5" y2="272.33" stroke="#000" stroke-width="1.33"/>
<text transform="translate(287.80,279.34) rotate(-85)" text-anchor="end" class="xt">10/08/14</text>
<line x1="303.5" y1="266.5" x2="303.5" y2="272.33" stroke="#000" stroke-width="1.33"/>
<text transform="translate(310.37,279.34) rotate(-85)" text-anchor="end" class="xt">11/08/14</text>
<line x1="325.5" y1="266.5" x2="325.5" y2="272.33" stroke="#000" stroke-width="1.33"/>
<text transform="translate(332.23,279.34) rotate(-85)" text-anchor="end" class="xt">12/08/14</text>
<line x1="348.5" y1="266.5" x2="348.5" y2="272.33" stroke="#000" stroke-width="1.33"/>
<text transform="translate(354.80,279.34) rotate(-85)" text-anchor="end" class="xt">01/08/15</text>
<line x1="370.5" y1="266.5" x2="370.5" y2="272.33" stroke="#000" stroke-width="1.33"/>
<text transform="translate(377.38,279.34) rotate(-85)" text-anchor="end" class="xt">02/08/15</text>
<line x1="391.5" y1="266.5" x2="391.5" y2="272.33" stroke="#000" stroke-width="1.33"/>
<text transform="translate(397.78,279.34) rotate(-85)" text-anchor="end" class="xt">03/08/15</text>
<line x1="413.5" y1="266.5" x2="413.5" y2="272.33" stroke="#000" stroke-width="1.33"/>
<text transform="translate(420.36,279.34) rotate(-85)" text-anchor="end" class="xt">04/08/15</text>
<line x1="435.5" y1="266.5" x2="435.5" y2="272.33" stroke="#000" stroke-width="1.33"/>
<text transform="translate(442.21,279.34) rotate(-85)" text-anchor="end" class="xt">05/08/15</text>
<line x1="458.5" y1="266.5" x2="458.5" y2="272.33" stroke="#000" stroke-width="1.33"/>
<text transform="translate(464.78,279.34) rotate(-85)" text-anchor="end" class="xt">06/08/15</text>
<line x1="480.5" y1="266.5" x2="480.5" y2="272.33" stroke="#000" stroke-width="1.33"/>
<text transform="translate(486.64,279.34) rotate(-85)" text-anchor="end" class="xt">07/08/15</text>
<line x1="502.5" y1="266.5" x2="502.5" y2="272.33" stroke="#000" stroke-width="1.33"/>
<text transform="translate(509.21,279.34) rotate(-85)" text-anchor="end" class="xt">08/08/15</text>
<line x1="525.5" y1="266.5" x2="525.5" y2="272.33" stroke="#000" stroke-width="1.33"/>
<text transform="translate(531.79,279.34) rotate(-85)" text-anchor="end" class="xt">09/08/15</text>
<line x1="547.5" y1="266.5" x2="547.5" y2="272.33" stroke="#000" stroke-width="1.33"/>
<text transform="translate(553.64,279.34) rotate(-85)" text-anchor="end" class="xt">10/08/15</text>
<line x1="569.5" y1="266.5" x2="569.5" y2="272.33" stroke="#000" stroke-width="1.33"/>
<text transform="translate(576.22,279.34) rotate(-85)" text-anchor="end" class="xt">11/08/15</text>
<line x1="591.5" y1="266.5" x2="591.5" y2="272.33" stroke="#000" stroke-width="1.33"/>
<text transform="translate(598.07,279.34) rotate(-85)" text-anchor="end" class="xt">12/08/15</text>
<line x1="614.5" y1="266.5" x2="614.5" y2="272.33" stroke="#000" stroke-width="1.33"/>
<text transform="translate(620.65,279.34) rotate(-85)" text-anchor="end" class="xt">01/08/16</text>
<line x1="636.5" y1="266.5" x2="636.5" y2="272.33" stroke="#000" stroke-width="1.33"/>
<text transform="translate(643.23,279.34) rotate(-85)" text-anchor="end" class="xt">02/08/16</text>
<line x1="657.5" y1="266.5" x2="657.5" y2="272.33" stroke="#000" stroke-width="1.33"/>
<text transform="translate(664.35,279.34) rotate(-85)" text-anchor="end" class="xt">03/08/16</text>
<line x1="680.5" y1="266.5" x2="680.5" y2="272.33" stroke="#000" stroke-width="1.33"/>
<text transform="translate(686.93,279.34) rotate(-85)" text-anchor="end" class="xt">04/08/16</text>
<line x1="702.5" y1="266.5" x2="702.5" y2="272.33" stroke="#000" stroke-width="1.33"/>
<text transform="translate(708.78,279.34) rotate(-85)" text-anchor="end" class="xt">05/08/16</text>
<line x1="724.5" y1="266.5" x2="724.5" y2="272.33" stroke="#000" stroke-width="1.33"/>
<text transform="translate(731.36,279.34) rotate(-85)" text-anchor="end" class="xt">06/08/16</text>
<line x1="746.5" y1="266.5" x2="746.5" y2="272.33" stroke="#000" stroke-width="1.33"/>
<text transform="translate(753.21,279.34) rotate(-85)" text-anchor="end" class="xt">07/08/16</text>
<line x1="769.5" y1="266.5" x2="769.5" y2="272.33" stroke="#000" stroke-width="1.33"/>
<text transform="translate(775.79,279.34) rotate(-85)" text-anchor="end" class="xt">08/08/16</text>
<line x1="791.5" y1="266.5" x2="791.5" y2="272.33" stroke="#000" stroke-width="1.33"/>
<text transform="translate(798.37,279.34) rotate(-85)" text-anchor="end" class="xt">09/08/16</text>
<line x1="813.5" y1="266.5" x2="813.5" y2="272.33" stroke="#000" stroke-width="1.33"/>
<text transform="translate(820.22,279.34) rotate(-85)" text-anchor="end" class="xt">10/08/16</text>
<line x1="836.5" y1="266.5" x2="836.5" y2="272.33" stroke="#000" stroke-width="1.33"/>
<text transform="translate(842.80,279.34) rotate(-85)" text-anchor="end" class="xt">11/08/16</text>
<line x1="858.5" y1="266.5" x2="858.5" y2="272.33" stroke="#000" stroke-width="1.33"/>
<text transform="translate(864.65,279.34) rotate(-85)" text-anchor="end" class="xt">12/08/16</text>
<line x1="77.67" y1="266.5" x2="83.5" y2="266.5" stroke="#000" stroke-width="1.33"/>
<text x="73.40" y="272.50" text-anchor="end" class="yt">940</text>
<line x1="77.67" y1="233.5" x2="83.5" y2="233.5" stroke="#000" stroke-width="1.33"/>
<text x="73.40" y="239.23" text-anchor="end" class="yt">960</text>
<line x1="77.67" y1="200.5" x2="83.5" y2="200.5" stroke="#000" stroke-width="1.33"/>
<text x="73.40" y="205.96" text-anchor="end" class="yt">980</text>
<line x1="77.67" y1="166.5" x2="83.5" y2="166.5" stroke="#000" stroke-width="1.33"/>
<text x="73.40" y="172.69" text-anchor="end" class="yt">1000</text>
<line x1="77.67" y1="133.5" x2="83.5" y2="133.5" stroke="#000" stroke-width="1.33"/>
<text x="73.40" y="139.41" text-anchor="end" class="yt">1020</text>
<line x1="77.67" y1="100.5" x2="83.5" y2="100.5" stroke="#000" stroke-width="1.33"/>
<text x="73.40" y="106.14" text-anchor="end" class="yt">1040</text>
<line x1="77.67" y1="66.5" x2="83.5" y2="66.5" stroke="#000" stroke-width="1.33"/>
<text x="73.40" y="72.87" text-anchor="end" class="yt">1060</text>
<line x1="77.67" y1="33.5" x2="83.5" y2="33.5" stroke="#000" stroke-width="1.33"/>
<text x="73.40" y="39.60" text-anchor="end" class="yt">1080</text>
<text x="471.05" y="24.6" text-anchor="middle" class="ti">Sea Level Pressure 300234011974530  02/26/2014 to 10/21/2016</text>
<text transform="translate(20.8,151.65) rotate(-90)" text-anchor="middle" class="tk">Sea Level Pressure</text>
<line x1="105.5" y1="383.5" x2="105.5" y2="617.5" stroke="#b0b0b0" stroke-width="1.2"/>
<line x1="125.5" y1="383.5" x2="125.5" y2="617.5" stroke="#b0b0b0" stroke-width="1.2"/>
<line x1="147.5" y1="383.5" x2="147.5" y2="617.5" stroke="#b0b0b0" stroke-width="1.2"/>
<line x1="169.5" y1="383.5" x2="169.5" y2="617.5" stroke="#b0b0b0" stroke-width="1.2"/>
<line x1="192.5" y1="383.5" x2="192.5" y2="617.5" stroke="#b0b0b0" stroke-width="1.2"/>
<line x1="214.5" y1="383.5" x2="214.5" y2="617.5" stroke="#b0b0b0" stroke-width="1.2"/>
<line x1="236.5" y1="383.5" x2="236.5" y2="617.5" stroke="#b0b0b0" stroke-width="1.2"/>
<line x1="259.5" y1="383.5" x2="259.5" y2="617.5" stroke="#b0b0b0" stroke-width="1.2"/>
<line x1="281.5" y1="383.5" x2="281.5" y2="617.5" stroke="#b0b0b0" stroke-width="1.2"/>
<line x1="303.5" y1="383.5" x2="303.5" y2="617.5" stroke="#b0b0b0" stroke-width="1.2"/>
<line x1="325.5" y1="383.5" x2="325.5" y2="617.5" stroke="#b0b0b0" stroke-width="1.2"/>
<line x1="348.5" y1="383.5" x2="348.5" y2="617.5" stroke="#b0b0b0" stroke-width="1.2"/>
<line x1="370.5" y1="383.5" x2="370.5" y2="617.5" stroke="#b0b0b0" stroke-width="1.2"/>
<line x1="391.5" y1="383.5" x2="391.5" y2="617.5" stroke="#b0b0b0" stroke-width="1.2"/>
<line x1="413.5" y1="383.5" x2="413.5" y2="617.5" stroke="#b0b0b0" stroke-width="1.2"/>
<line x1="435.5" y1="383.5" x2="435.5" y2="617.5" stroke="#b0b0b0" stroke-width="1.2"/>
<line x1="458.5" y1="383.5" x2="458.5" y2="617.5" stroke="#b0b0b0" stroke-width="1.2"/>
<line x1="480.5" y1="383.5" x2="480.5" y2="617.5" stroke="#b0b0b0" stroke-width="1.2"/>
<line x1="502.5" y1="383.5" x2="502.5" y2="617.5" stroke="#b0b0b0" stroke-width="1.2"/>
<line x1="525.5" y1="383.5" x2="525.5" y2="617.5" stroke="#b0b0b0" stroke-width="1.2"/>
<line x1="547.5" y1="383.5" x2="547.5" y2="617.5" stroke="#b0b0b0" stroke-width="1.2"/>
<line x1="569.5" y1="383.5" x2="569.5" y2="617.5" stroke="#b0b0b0" stroke-width="1.2"/>
<line x1="591.5" y1="383.5" x2="591.5" y2="617.5" stroke="#b0b0b0" stroke-width="1.2"/>
<line x1="614.5" y1="383.5" x2="614.5" y2="617.5" stroke="#b0b0b0" stroke-width="1.2"/>
<line x1="636.5" y1="383.5" x2="636.5" y2="617.5" stroke="#b0b0b0" stroke-width="1.2"/>
<line x1="657.5" y1="383.5" x2="657.5" y2="617.5" stroke="#b0b0b0" stroke-width="1.2"/>
<line x1="680.5" y1="383.5" x2="680.5" y2="617.5" stroke="#b0b0b0" stroke-width="1.2"/>
<line x1="702.5" y1="383.5" x2="702.5" y2="617.5" stroke="#b0b0b0" stroke-width="1.2"/>
<line x1="724.5" y1="383.5" x2="724.5" y2="617.5" stroke="#b0b0b0" stroke-width="1.2"/>
<line x1="746.5" y1="383.5" x2="746.5" y2="617.5" stroke="#b0b0b0" stroke-width="1.2"/>
<line x1="769.5" y1="383.5" x2="769.5" y2="617.5" stroke="#b0b0b0" stroke-width="1.2"/>
<line x1="791.5" y1="383.5" x2="791.5" y2="617.5" stroke="#b0b0b0" stroke-width="1.2"/>
<line x1="813.5" y1="383.5" x2="813.5" y2="617.5" stroke="#b0b0b0" stroke-width="1.2"/>
<line x1="836.5" y1="383.5" x2="836.5" y2="617.5" stroke="#b0b0b0" stroke-width="1.2"/>
<line x1="858.5" y1="383.5" x2="858.5" y2="617.5" stroke="#b0b0b0" stroke-width="1.2"/>
<line x1="83.5" y1="617.5" x2="858.5" y2="617.5" stroke="#b0b0b0" stroke-width="1.2"/>
<line x1="83.5" y1="578.5" x2="858.5" y2="578.5" stroke="#b0b0b0" stroke-width="1.2"/>
<line x1="83.5" y1="539.5" x2="858.5" y2="539.5" stroke="#b0b0b0" stroke-width="1.2"/>
<line x1="83.5" y1="500.5" x2="858.5" y2="500.5" stroke="#b0b0b0" stroke-width="1.2"/>
<line x1="83.5" y1="461.5" x2="858.5" y2="461.5" stroke="#b0b0b0" stroke-width="1.2"/>
<line x1="83.5" y1="422.5" x2="858.5" y2="422.5" stroke="#b0b0b0" stroke-width="1.2"/>
<line x1="83.5" y1="383.5" x2="858.5" y2="383.5" stroke="#b0b0b0" stroke-width="1.2"/>
<g clip-path="url(#c2)" stroke-linejoin="round" stroke-linecap="round">
<circle cx="118.3" cy="407.6" r="2.05" fill="#483D8B" stroke="#000" stroke-width="0.8"/>
<circle cx="118.3" cy="443.3" r="2.05" fill="#483D8B" stroke="#000" stroke-width="0.8"/>
<circle cx="118.3" cy="448.3" r="2.05" fill="#483D8B" stroke="#000" stroke-width="0.8"/>
<circle cx="118.3" cy="467.6" r="2.05" fill="#483D8B" stroke="#000" stroke-width="0.8"/>
<polyline points="118,489 118,535" fill="none" stroke="#000" stroke-width="3.8"/>
<polyline points="118,489 118,535" fill="none" stroke="#483D8B" stroke-width="2"/>
<polygon points="119.5,487 120.5,485 122,486 122.3,487.7 122.6,489.5 122,491.3 122.8,493 122.3,494.8 122.6,496.5 123.1,498.2 122.5,500 122.5,501.7 123.2,503.4 122.7,505.1 123.3,506.8 123.3,508.4 122.8,510.2 122.3,511.9 123.3,513.5 123.2,515.2 122.7,516.9 122.3,518.6 122.9,520.3 123,522 124.6,523.4 126,525 126.9,523.5 125.9,521.7 127.2,520.2 126.7,518.5 126.8,516.8 127,515.2 127.5,513.6 128,512 129.2,510.4 129.1,508.3 130.4,506.8 131,505 131.8,503.5 132,501.8 132.8,500.4 132.8,498.6 133.3,497 134.5,495.7 135.4,494.1 137,493 138.7,493.3 140.3,493 142,495 142.1,496.7 142.3,498.3 142,500 142.2,501.7 142.5,503.3 141.8,505 142,506.6 142.7,508.3 142.3,510 142.4,511.6 141.9,513.3 142.2,515 142.8,516.6 141.9,518.3 143.2,519.9 142.8,521.6 142.4,523.3 143.2,524.9 142.8,526.6 140,527 138.2,525.5 136.4,524 135,525.6 133,526 131.3,524 130.9,525.6 130.7,527.2 130.8,528.8 130.3,530.4 130.9,532 130.2,533.6 130.3,535.2 130.1,536.8 130.2,538.4 130,540 129.4,541.6 129,543.3 129.5,545 129.1,546.6 129.8,548.4 129,550 127.5,552.3 126.9,550.7 126,549.3 125,548 124,546 122,545 121.9,543.2 120.7,541.8 120.5,540 120.3,538.3 120.6,536.7 119.6,535 120.1,533.3 119.6,531.7 119.5,530 119.3,528.4 120.2,526.6 119.2,525 119.3,523.4 119.4,521.7 119.5,520 120,518.4 118.9,516.7 119.4,515 119.6,513.4 120,511.8 119.9,510.1 120,508.4 119.2,506.8 119.4,505.1 119.3,503.5 120,501.9 120.1,500.2 119,498.6 119,496.9 119.1,495.2 119.1,493.6 119.5,491.9 119.6,490.3 119.2,488.6" fill="#0000FF" stroke="#000" stroke-width="1.2"/>
<polygon points="119.5,487 120.5,485 122,486 122.3,487.7 122.6,489.5 122,491.3 122.8,493 122.3,494.8 122.6,496.5 123.1,498.2 122.5,500 122.5,501.7 123.2,503.4 122.7,505.1 123.3,506.8 123.3,508.4 122.8,510.2 122.3,511.9 123.3,513.5 123.2,515.2 122.7,516.9 122.3,518.6 122.9,520.3 123,522 124.6,523.4 126,525 126.9,523.5 125.9,521.7 127.2,520.2 126.7,518.5 126.8,516.8 127,515.2 127.5,513.6 128,512 129.2,510.4 129.1,508.3 130.4,506.8 131,505 131.8,503.5 132,501.8 132.8,500.4 132.8,498.6 133.3,497 134.5,495.7 135.4,494.1 137,493 138.7,493.3 140.3,493 142,495 142.1,496.7 142.3,498.3 142,500 142.2,501.7 142.5,503.3 141.8,505 142,506.6 142.7,508.3 142.3,510 142.4,511.6 141.9,513.3 142.2,515 142.8,516.6 141.9,518.3 143.2,519.9 142.8,521.6 142.4,523.3 143.2,524.9 142.8,526.6 140,527 138.2,525.5 136.4,524 135,525.6 133,526 131.3,524 130.9,525.6 130.7,527.2 130.8,528.8 130.3,530.4 130.9,532 130.2,533.6 130.3,535.2 130.1,536.8 130.2,538.4 130,540 129.4,541.6 129,543.3 129.5,545 129.1,546.6 129.8,548.4 129,550 127.5,552.3 126.9,550.7 126,549.3 125,548 124,546 122,545 121.9,543.2 120.7,541.8 120.5,540 120.3,538.3 120.6,536.7 119.6,535 120.1,533.3 119.6,531.7 119.5,530 119.3,528.4 120.2,526.6 119.2,525 119.3,523.4 119.4,521.7 119.5,520 120,518.4 118.9,516.7 119.4,515 119.6,513.4 120,511.8 119.9,510.1 120,508.4 119.2,506.8 119.4,505.1 119.3,503.5 120,501.9 120.1,500.2 119,498.6 119,496.9 119.1,495.2 119.1,493.6 119.5,491.9 119.6,490.3 119.2,488.6" fill="url(#spk)" stroke="none"/>
<polygon points="142.8,503 143.9,501.5 145,500 145.5,501.6 146.2,503.2 145.5,505.1 147,506.5 146.7,508.3 147,510 148.2,508.5 147.8,506.4 149,505 149.4,503.3 149.7,501.7 149.2,499.9 149.9,498.3 150.7,496.7 150.6,495 151.3,493.4 150.7,491.6 151.5,490 151.3,488.3 151.2,486.6 151.9,485 152.6,483.4 152.3,481.7 152.6,480 152.2,478.3 152.8,476.7 152.1,475 152.5,473.3 153.1,471.7 153,470 154.5,470 154.3,471.7 154.8,473.3 155.4,475 155.3,476.6 155.5,478.3 155.5,480 154.8,481.7 155.8,483.3 155.5,485 155.3,486.9 155.7,488.6 157.2,490.1 157,492 157.1,490.3 157.6,488.6 157.2,486.7 158,485.1 159,483.5 158.2,481.6 159,480 160.6,479.1 162,478 162.8,476.3 164.5,475.4 165.7,474 167,476 166.3,477.7 167.2,479.5 167.3,481.3 167.1,483 166.3,484.7 166.9,486.5 166.7,488.3 166,490 165.3,491.7 164.1,493.1 164,495 163.4,496.7 162.8,498.4 162,500 159,500 158.6,501.6 159.1,503.4 158.1,505 158.5,506.7 157.6,508.3 157.5,510 156.7,511.7 157.8,513.5 156.9,515.1 156.7,516.8 157.1,518.6 156.8,520.3 156.3,522 154,520 153,521.5 152.6,523.2 153.5,525.1 152.4,526.6 151.7,528.2 152,530 152.3,531.7 151.6,533.3 152.3,535 151.7,536.7 151.2,538.3 151.2,540 150.8,541.6 151.7,543.4 151,545 151,546.7 150,548.3 150.1,550 150.1,551.7 149.9,553.4 149.5,555 147.5,555 147.9,553.2 147.1,551.7 146.1,550.1 146.9,548.3 146,546.7 146,545 145.7,543.3 145.2,541.7 145.3,540 144.9,538.4 144.3,536.7 144.8,535 143.9,533.4 144.6,531.6 144,530 142.8,528.2 142.8,526 143.2,524.4 143.2,522.7 142.8,521.1 143.1,519.4 142.4,517.8 143.1,516.1 142.7,514.5 142.4,512.9 143.4,511.2 142.7,509.6 142.6,507.9 143.3,506.3 142.6,504.6" fill="#00BFFF" stroke="#000" stroke-width="1.2"/>
<polygon points="142.8,503 143.9,501.5 145,500 145.5,501.6 146.2,503.2 145.5,505.1 147,506.5 146.7,508.3 147,510 148.2,508.5 147.8,506.4 149,505 149.4,503.3 149.7,501.7 149.2,499.9 149.9,498.3 150.7,496.7 150.6,495 151.3,493.4 150.7,491.6 151.5,490 151.3,488.3 151.2,486.6 151.9,485 152.6,483.4 152.3,481.7 152.6,480 152.2,478.3 152.8,476.7 152.1,475 152.5,473.3 153.1,471.7 153,470 154.5,470 154.3,471.7 154.8,473.3 155.4,475 155.3,476.6 155.5,478.3 155.5,480 154.8,481.7 155.8,483.3 155.5,485 155.3,486.9 155.7,488.6 157.2,490.1 157,492 157.1,490.3 157.6,488.6 157.2,486.7 158,485.1 159,483.5 158.2,481.6 159,480 160.6,479.1 162,478 162.8,476.3 164.5,475.4 165.7,474 167,476 166.3,477.7 167.2,479.5 167.3,481.3 167.1,483 166.3,484.7 166.9,486.5 166.7,488.3 166,490 165.3,491.7 164.1,493.1 164,495 163.4,496.7 162.8,498.4 162,500 159,500 158.6,501.6 159.1,503.4 158.1,505 158.5,506.7 157.6,508.3 157.5,510 156.7,511.7 157.8,513.5 156.9,515.1 156.7,516.8 157.1,518.6 156.8,520.3 156.3,522 154,520 153,521.5 152.6,523.2 153.5,525.1 152.4,526.6 151.7,528.2 152,530 152.3,531.7 151.6,533.3 152.3,535 151.7,536.7 151.2,538.3 151.2,540 150.8,541.6 151.7,543.4 151,545 151,546.7 150,548.3 150.1,550 150.1,551.7 149.9,553.4 149.5,555 147.5,555 147.9,553.2 147.1,551.7 146.1,550.1 146.9,548.3 146,546.7 146,545 145.7,543.3 145.2,541.7 145.3,540 144.9,538.4 144.3,536.7 144.8,535 143.9,533.4 144.6,531.6 144,530 142.8,528.2 142.8,526 143.2,524.4 143.2,522.7 142.8,521.1 143.1,519.4 142.4,517.8 143.1,516.1 142.7,514.5 142.4,512.9 143.4,511.2 142.7,509.6 142.6,507.9 143.3,506.3 142.6,504.6" fill="url(#spk)" stroke="none"/>
<polygon points="164,470 164.1,468.3 164.4,466.6 165,464.9 164.5,463.1 164.7,461.4 165,459.7 165,458 165.7,456.5 167,455.5 168,457.3 169,459 170.2,457.6 171,456 174,457 177,458 178.3,459.3 180,460 181.8,460.5 183,462 184.2,463.2 185.5,464.3 186,466 185.6,467.8 185.9,469.5 186.8,471.2 185.6,473 185.7,474.8 186.2,476.5 186.3,478.3 186.5,480 186.7,481.7 186.7,483.4 185.7,485 186.1,486.8 185.7,488.4 185,490 183.7,491.5 182.5,489.9 182,488 181,486.1 181.3,484 181,482 180.2,480.5 179.9,478.8 178.8,477.5 178,476 176.6,474.1 175,472.5 172,473 171,474.3 169.8,475.5 169,477 167,478 165,476 164.6,474 164,472.1" fill="#00FFFF" stroke="#000" stroke-width="1.2"/>
<polygon points="164,470 164.1,468.3 164.4,466.6 165,464.9 164.5,463.1 164.7,461.4 165,459.7 165,458 165.7,456.5 167,455.5 168,457.3 169,459 170.2,457.6 171,456 174,457 177,458 178.3,459.3 180,460 181.8,460.5 183,462 184.2,463.2 185.5,464.3 186,466 185.6,467.8 185.9,469.5 186.8,471.2 185.6,473 185.7,474.8 186.2,476.5 186.3,478.3 186.5,480 186.7,481.7 186.7,483.4 185.7,485 186.1,486.8 185.7,488.4 185,490 183.7,491.5 182.5,489.9 182,488 181,486.1 181.3,484 181,482 180.2,480.5 179.9,478.8 178.8,477.5 178,476 176.6,474.1 175,472.5 172,473 171,474.3 169.8,475.5 169,477 167,478 165,476 164.6,474 164,472.1" fill="url(#spk)" stroke="none"/>
<polygon points="186,470 185.8,468.3 186.5,466.7 186.6,465 187,463.4 186.2,461.6 186.4,460 186.4,458.3 186.6,456.6 187.5,455 186.7,453.3 187.4,451.7 187.5,450 188.1,448.2 189.4,446.9 192,446 193.6,444.9 195.4,444.3 198,446 200.1,445.1 202.3,444.3 203.6,442.3 204,440 205,438.4 205.7,436.6 208,438 209.5,440 210.2,441.7 209.8,443.5 210,445.2 209,446.9 209.1,448.6 209.1,450.4 209,452.1 209.2,453.8 208.9,455.5 209.1,457.3 209.5,459 207.8,459.8 206,460 203.9,460 202,461 200.5,462.5 198.9,464 196.8,464.7 195,466 193.4,467.4 192,469 191.4,471 190.8,473.1 190,475 189.7,476.6 189.5,478.3 189.3,479.9 188,481.3 188,483 186.9,484.3 186.5,486 187.1,484.4 186.7,482.8 186.4,481.2 186.6,479.6 185.7,478 186.4,476.4 186.1,474.8 185.6,473.2 185.6,471.6" fill="#32CD32" stroke="#000" stroke-width="1.2"/>
<polygon points="186,470 185.8,468.3 186.5,466.7 186.6,465 187,463.4 186.2,461.6 186.4,460 186.4,458.3 186.6,456.6 187.5,455 186.7,453.3 187.4,451.7 187.5,450 188.1,448.2 189.4,446.9 192,446 193.6,444.9 195.4,444.3 198,446 200.1,445.1 202.3,444.3 203.6,442.3 204,440 205,438.4 205.7,436.6 208,438 209.5,440 210.2,441.7 209.8,443.5 210,445.2 209,446.9 209.1,448.6 209.1,450.4 209,452.1 209.2,453.8 208.9,455.5 209.1,457.3 209.5,459 207.8,459.8 206,460 203.9,460 202,461 200.5,462.5 198.9,464 196.8,464.7 195,466 193.4,467.4 192,469 191.4,471 190.8,473.1 190,475 189.7,476.6 189.5,478.3 189.3,479.9 188,481.3 188,483 186.9,484.3 186.5,486 187.1,484.4 186.7,482.8 186.4,481.2 186.6,479.6 185.7,478 186.4,476.4 186.1,474.8 185.6,473.2 185.6,471.6" fill="url(#spk)" stroke="none"/>
<polygon points="207.5,455 208.1,453.3 206.8,451.7 207.8,450 207,448.3 208.1,446.7 206.7,445 207.9,443.3 207.6,441.7 207.9,440 208.1,438.3 207,436.7 207.1,435 207.6,433.3 207,431.7 207,430 206.9,428.3 207.8,426.7 207.8,425 207.6,423.3 206.8,421.7 207.2,420 207.8,418.3 207.3,416.6 207,414.9 207.4,413.2 207.4,411.5 206.9,409.8 207.7,408.2 207.4,406.5 207.8,404.8 208.3,403.1 208,401.4 207.7,399.7 207.9,398 208.7,396.4 209.1,394.8 208.7,393 209.6,391.4 208.6,389.6 209.5,388 209.5,385.9 210.1,383.9 211,382 213,382.6 215,382 214.9,383.7 215,385.4 215.7,387 215.5,388.7 215.1,390.4 215.8,392 216.5,393.6 216.6,395.2 216.9,396.8 216.4,398.5 216.1,400.2 216.6,401.8 217,403.4 217,405 217.7,407 218.8,408.9 219,411 222,412 223.1,410.4 222.8,408.4 223.1,406.6 224,405 223.8,403.4 224.7,401.8 224,400.1 225,398.5 224.3,396.9 224.5,395.2 224.1,393.6 224.8,392 225.5,390.4 225.4,388.7 225.1,387 224.7,385.3 225.4,383.7 225.5,382 227.1,381.8 228.8,382.5 230.4,382.6 232,382 231.6,383.6 232.3,385.3 232.6,387 231.4,388.6 231.3,390.3 232.3,391.9 231.8,393.6 231.9,395.2 231.1,396.9 232.4,398.5 232.4,400.2 231.3,401.8 231.6,403.5 231.7,405.1 231.3,406.8 231.5,408.4 231.4,410.1 232,411.7 232.2,413.4 232.3,415.1 231.8,416.7 231.3,418.3 231.5,420 231.6,421.6 231.7,423.2 231.3,424.8 231.1,426.4 231.3,428 231.6,429.6 230.9,431.2 230.9,432.8 230.8,434.4 230.8,436 232,437.6 231,439.2 231.5,440.8 231.4,442.4 231.2,444 231.7,445.6 231.5,447.2 230.5,448.8 231.4,450.4 230.5,452 230.8,453.6 231.3,455.2 231.3,456.8 230.9,458.4 231,460 230.6,461.7 231.1,463.3 231.4,465 231.1,466.7 230.1,468.3 230.5,470 228,471 225.7,470.6 224.7,469.2 222.9,468.6 222,467 221.2,465.5 219.8,464.5 218.6,463.4 217.3,462.1 216.9,460.2 215,459.4 214.3,457.7 212.3,458.9 210,459 208.6,457.1" fill="#00FF00" stroke="#000" stroke-width="1.2"/>
<polygon points="207.5,455 208.1,453.3 206.8,451.7 207.8,450 207,448.3 208.1,446.7 206.7,445 207.9,443.3 207.6,441.7 207.9,440 208.1,438.3 207,436.7 207.1,435 207.6,433.3 207,431.7 207,430 206.9,428.3 207.8,426.7 207.8,425 207.6,423.3 206.8,421.7 207.2,420 207.8,418.3 207.3,416.6 207,414.9 207.4,413.2 207.4,411.5 206.9,409.8 207.7,408.2 207.4,406.5 207.8,404.8 208.3,403.1 208,401.4 207.7,399.7 207.9,398 208.7,396.4 209.1,394.8 208.7,393 209.6,391.4 208.6,389.6 209.5,388 209.5,385.9 210.1,383.9 211,382 213,382.6 215,382 214.9,383.7 215,385.4 215.7,387 215.5,388.7 215.1,390.4 215.8,392 216.5,393.6 216.6,395.2 216.9,396.8 216.4,398.5 216.1,400.2 216.6,401.8 217,403.4 217,405 217.7,407 218.8,408.9 219,411 222,412 223.1,410.4 222.8,408.4 223.1,406.6 224,405 223.8,403.4 224.7,401.8 224,400.1 225,398.5 224.3,396.9 224.5,395.2 224.1,393.6 224.8,392 225.5,390.4 225.4,388.7 225.1,387 224.7,385.3 225.4,383.7 225.5,382 227.1,381.8 228.8,382.5 230.4,382.6 232,382 231.6,383.6 232.3,385.3 232.6,387 231.4,388.6 231.3,390.3 232.3,391.9 231.8,393.6 231.9,395.2 231.1,396.9 232.4,398.5 232.4,400.2 231.3,401.8 231.6,403.5 231.7,405.1 231.3,406.8 231.5,408.4 231.4,410.1 232,411.7 232.2,413.4 232.3,415.1 231.8,416.7 231.3,418.3 231.5,420 231.6,421.6 231.7,423.2 231.3,424.8 231.1,426.4 231.3,428 231.6,429.6 230.9,431.2 230.9,432.8 230.8,434.4 230.8,436 232,437.6 231,439.2 231.5,440.8 231.4,442.4 231.2,444 231.7,445.6 231.5,447.2 230.5,448.8 231.4,450.4 230.5,452 230.8,453.6 231.3,455.2 231.3,456.8 230.9,458.4 231,460 230.6,461.7 231.1,463.3 231.4,465 231.1,466.7 230.1,468.3 230.5,470 228,471 225.7,470.6 224.7,469.2 222.9,468.6 222,467 221.2,465.5 219.8,464.5 218.6,463.4 217.3,462.1 216.9,460.2 215,459.4 214.3,457.7 212.3,458.9 210,459 208.6,457.1" fill="url(#spk)" stroke="none"/>
<polygon points="207.5,455 208.1,453.3 206.8,451.7 207.8,450 207,448.3 208.1,446.7 206.7,445 207.9,443.3 207.6,441.7 207.9,440 208.1,438.3 207,436.7 207.1,435 207.6,433.3 207,431.7 207,430 206.9,428.3 207.8,426.7 207.8,425 207.6,423.3 206.8,421.7 207.2,420 207.8,418.3 207.3,416.6 207,414.9 207.4,413.2 207.4,411.5 206.9,409.8 207.7,408.2 207.4,406.5 207.8,404.8 208.3,403.1 208,401.4 207.7,399.7 207.9,398 208.7,396.4 209.1,394.8 208.7,393 209.6,391.4 208.6,389.6 209.5,388 209.5,385.9 210.1,383.9 211,382 213,382.6 215,382 214.9,383.7 215,385.4 215.7,387 215.5,388.7 215.1,390.4 215.8,392 216.5,393.6 216.6,395.2 216.9,396.8 216.4,398.5 216.1,400.2 216.6,401.8 217,403.4 217,405 217.7,407 218.8,408.9 219,411 222,412 223.1,410.4 222.8,408.4 223.1,406.6 224,405 223.8,403.4 224.7,401.8 224,400.1 225,398.5 224.3,396.9 224.5,395.2 224.1,393.6 224.8,392 225.5,390.4 225.4,388.7 225.1,387 224.7,385.3 225.4,383.7 225.5,382 227.1,381.8 228.8,382.5 230.4,382.6 232,382 231.6,383.6 232.3,385.3 232.6,387 231.4,388.6 231.3,390.3 232.3,391.9 231.8,393.6 231.9,395.2 231.1,396.9 232.4,398.5 232.4,400.2 231.3,401.8 231.6,403.5 231.7,405.1 231.3,406.8 231.5,408.4 231.4,410.1 232,411.7 232.2,413.4 232.3,415.1 231.8,416.7 231.3,418.3 231.5,420 231.6,421.6 231.7,423.2 231.3,424.8 231.1,426.4 231.3,428 231.6,429.6 230.9,431.2 230.9,432.8 230.8,434.4 230.8,436 232,437.6 231,439.2 231.5,440.8 231.4,442.4 231.2,444 231.7,445.6 231.5,447.2 230.5,448.8 231.4,450.4 230.5,452 230.8,453.6 231.3,455.2 231.3,456.8 230.9,458.4 231,460 230.6,461.7 231.1,463.3 231.4,465 231.1,466.7 230.1,468.3 230.5,470 228,471 225.7,470.6 224.7,469.2 222.9,468.6 222,467 221.2,465.5 219.8,464.5 218.6,463.4 217.3,462.1 216.9,460.2 215,459.4 214.3,457.7 212.3,458.9 210,459 208.6,457.1" fill="url(#spk2)" stroke="none"/>
<circle cx="219.3" cy="391.3" r="2.05" fill="#00FF00" stroke="#000" stroke-width="0.8"/>
<circle cx="220" cy="400.6" r="2.05" fill="#00FF00" stroke="#000" stroke-width="0.8"/>
<circle cx="217.5" cy="404" r="2.05" fill="#00FF00" stroke="#000" stroke-width="0.8"/>
<circle cx="229.3" cy="477" r="2.05" fill="#00FF00" stroke="#000" stroke-width="0.8"/>
<polygon points="230.7,425 232.3,424.1 232.5,422 234,421 235.8,419.9 238,420 238.6,422 240.6,423 241.4,424.9 242.7,426.4 242.9,428.4 244,430 244.8,431.5 244.7,433.3 246.2,434.5 245.9,436.4 247.1,437.7 248.2,439 248.7,440.7 249.2,442.3 250.3,443.6 251.4,444.9 251.7,446.7 253,448 252.7,449.6 253.6,451.3 252.5,452.9 252.9,454.5 253.3,456.2 253.4,457.8 252.5,459.5 252.9,461.1 252.4,462.7 252.6,464.4 253,466 251.2,466.5 250,468 248.6,469.1 246.9,469.8 245.4,470.9 244,472 241.4,473.4 239.7,472.5 238.9,470.6 237,470 234.8,469.1 232.9,467.7 232.8,466.1 232.6,464.4 231.8,463 230.7,461.7 230.7,460 231.2,458.3 230.9,456.7 230.3,455 230.1,453.3 230.7,451.7 230,450 231.3,448.3 230.7,446.7 230.7,445 230.6,443.3 230.9,441.7 231.3,440 230.4,438.3 230.5,436.7 230.8,435 230.4,433.3 230.8,431.7 230.8,430 230.6,428.3 230.9,426.7" fill="#FFFF00" stroke="#000" stroke-width="1.2"/>
<polygon points="230.7,425 232.3,424.1 232.5,422 234,421 235.8,419.9 238,420 238.6,422 240.6,423 241.4,424.9 242.7,426.4 242.9,428.4 244,430 244.8,431.5 244.7,433.3 246.2,434.5 245.9,436.4 247.1,437.7 248.2,439 248.7,440.7 249.2,442.3 250.3,443.6 251.4,444.9 251.7,446.7 253,448 252.7,449.6 253.6,451.3 252.5,452.9 252.9,454.5 253.3,456.2 253.4,457.8 252.5,459.5 252.9,461.1 252.4,462.7 252.6,464.4 253,466 251.2,466.5 250,468 248.6,469.1 246.9,469.8 245.4,470.9 244,472 241.4,473.4 239.7,472.5 238.9,470.6 237,470 234.8,469.1 232.9,467.7 232.8,466.1 232.6,464.4 231.8,463 230.7,461.7 230.7,460 231.2,458.3 230.9,456.7 230.3,455 230.1,453.3 230.7,451.7 230,450 231.3,448.3 230.7,446.7 230.7,445 230.6,443.3 230.9,441.7 231.3,440 230.4,438.3 230.5,436.7 230.8,435 230.4,433.3 230.8,431.7 230.8,430 230.6,428.3 230.9,426.7" fill="url(#spk)" stroke="none"/>
<circle cx="237.9" cy="399.1" r="2.05" fill="#FFFF00" stroke="#000" stroke-width="0.8"/>
<circle cx="237.9" cy="403" r="2.05" fill="#FFFF00" stroke="#000" stroke-width="0.8"/>
<circle cx="235" cy="406" r="2.05" fill="#FFFF00" stroke="#000" stroke-width="0.8"/>
<circle cx="236.5" cy="410" r="2.05" fill="#FFFF00" stroke="#000" stroke-width="0.8"/>
<circle cx="234.5" cy="414" r="2.05" fill="#FFFF00" stroke="#000" stroke-width="0.8"/>
<circle cx="239" cy="412" r="2.05" fill="#FFFF00" stroke="#000" stroke-width="0.8"/>
<circle cx="241" cy="416" r="2.05" fill="#FFFF00" stroke="#000" stroke-width="0.8"/>
<circle cx="245.7" cy="408.4" r="2.05" fill="#FFFF00" stroke="#000" stroke-width="0.8"/>
<circle cx="246.4" cy="412.7" r="2.05" fill="#FFFF00" stroke="#000" stroke-width="0.8"/>
<circle cx="243" cy="418" r="2.05" fill="#FFFF00" stroke="#000" stroke-width="0.8"/>
<circle cx="233" cy="418" r="2.05" fill="#FFFF00" stroke="#000" stroke-width="0.8"/>
<circle cx="231.5" cy="410" r="2.05" fill="#FFFF00" stroke="#000" stroke-width="0.8"/>
<circle cx="237" cy="417" r="2.05" fill="#FFFF00" stroke="#000" stroke-width="0.8"/>
<circle cx="240" cy="421" r="2.05" fill="#FFFF00" stroke="#000" stroke-width="0.8"/>
<polyline points="242.9,474 242.9,481" fill="none" stroke="#000" stroke-width="4.6"/>
<polyline points="242.9,474 242.9,481" fill="none" stroke="#FFFF00" stroke-width="2.8"/>
<polygon points="252.9,450 253.9,448.5 255,447 257,446.5 258.4,445 261,444 263,445 264.3,446.4 264.6,448.2 265,450 264.9,451.8 265.9,453.3 267.1,454.6 267.4,456.3 267.7,458 268.4,460.3 270,462 270.5,463.7 271.6,465.4 271.4,467.3 270.8,469 271.8,470.8 271,472.5 270.9,474.3 271,476 270.6,478 269.4,479.9 269.6,482 268.1,481 267.3,479.2 266,478 264.4,477.3 263.8,475.3 262.1,474.7 260.2,475.8 258,476 256.3,476.3 254.7,476.6 254.6,474.9 254.1,473.3 253,472 252.4,470.3 253.5,468.6 253.5,466.9 252.7,465.2 253.3,463.5 252.6,461.8 252.5,460.2 252.5,458.5 252.7,456.8 253.4,455.1 252.9,453.4 253.6,451.7" fill="#FF8C00" stroke="#000" stroke-width="1.2"/>
<polygon points="252.9,450 253.9,448.5 255,447 257,446.5 258.4,445 261,444 263,445 264.3,446.4 264.6,448.2 265,450 264.9,451.8 265.9,453.3 267.1,454.6 267.4,456.3 267.7,458 268.4,460.3 270,462 270.5,463.7 271.6,465.4 271.4,467.3 270.8,469 271.8,470.8 271,472.5 270.9,474.3 271,476 270.6,478 269.4,479.9 269.6,482 268.1,481 267.3,479.2 266,478 264.4,477.3 263.8,475.3 262.1,474.7 260.2,475.8 258,476 256.3,476.3 254.7,476.6 254.6,474.9 254.1,473.3 253,472 252.4,470.3 253.5,468.6 253.5,466.9 252.7,465.2 253.3,463.5 252.6,461.8 252.5,460.2 252.5,458.5 252.7,456.8 253.4,455.1 252.9,453.4 253.6,451.7" fill="url(#spk)" stroke="none"/>
<circle cx="258.4" cy="424.6" r="2.05" fill="#FF8C00" stroke="#000" stroke-width="0.8"/>
<circle cx="258.4" cy="430" r="2.05" fill="#FF8C00" stroke="#000" stroke-width="0.8"/>
<circle cx="258.4" cy="436" r="2.05" fill="#FF8C00" stroke="#000" stroke-width="0.8"/>
<circle cx="258.4" cy="441" r="2.05" fill="#FF8C00" stroke="#000" stroke-width="0.8"/>
<circle cx="262.1" cy="434.8" r="2.05" fill="#FF8C00" stroke="#000" stroke-width="0.8"/>
<circle cx="269.6" cy="486" r="2.05" fill="#FF8C00" stroke="#000" stroke-width="0.8"/>
<circle cx="269.6" cy="490" r="2.05" fill="#FF8C00" stroke="#000" stroke-width="0.8"/>
<circle cx="269.6" cy="495" r="2.05" fill="#FF8C00" stroke="#000" stroke-width="0.8"/>
<circle cx="269.6" cy="499" r="2.05" fill="#FF8C00" stroke="#000" stroke-width="0.8"/>
<circle cx="269.6" cy="503.5" r="2.05" fill="#FF8C00" stroke="#000" stroke-width="0.8"/>
<polygon points="379.7,533.7 380.8,531.9 380,529.8 381,528 382.3,526.1 383,524 384.3,523 386,525 386.2,526.7 385.7,528.4 386.5,530 386.8,532 386.2,534 387,536 385,536.5 383,536 380,535.5" fill="#483D8B" stroke="#000" stroke-width="1.2"/>
<polygon points="379.7,533.7 380.8,531.9 380,529.8 381,528 382.3,526.1 383,524 384.3,523 386,525 386.2,526.7 385.7,528.4 386.5,530 386.8,532 386.2,534 387,536 385,536.5 383,536 380,535.5" fill="url(#spk)" stroke="none"/>
<polygon points="385,533 386.5,531.8 387,530 389.4,529.1 392,528 394.6,527.4 396.2,528.4 397,530 399,532 399.7,530.4 400.3,528.7 401,527 403.1,526.3 406,527 406.5,528.9 408,530 407.7,532 407,534 404,534.5 401,535 399.7,536 398.4,537.1 397,538 395,540 394.6,541.6 394.5,543.4 394,545 392.3,547.5 390.5,545 390.3,542.8 389,541 387,540 387,538.1 386.3,536.4 384.9,534.9" fill="#0000FF" stroke="#000" stroke-width="1.2"/>
<polygon points="385,533 386.5,531.8 387,530 389.4,529.1 392,528 394.6,527.4 396.2,528.4 397,530 399,532 399.7,530.4 400.3,528.7 401,527 403.1,526.3 406,527 406.5,528.9 408,530 407.7,532 407,534 404,534.5 401,535 399.7,536 398.4,537.1 397,538 395,540 394.6,541.6 394.5,543.4 394,545 392.3,547.5 390.5,545 390.3,542.8 389,541 387,540 387,538.1 386.3,536.4 384.9,534.9" fill="url(#spk)" stroke="none"/>
<polyline points="407.7,531 410,533 412.3,534.5 413.4,525 416,523 418,521 420.3,508 422,512 423.7,513.5 424.9,503 427,501 429.4,499.4 431.5,497" fill="none" stroke="#000" stroke-width="5.2"/>
<polyline points="407.7,531 410,533 412.3,534.5 413.4,525 416,523 418,521 420.3,508 422,512 423.7,513.5 424.9,503 427,501 429.4,499.4 431.5,497" fill="none" stroke="#00BFFF" stroke-width="3.4"/>
<circle cx="432.3" cy="496" r="2.05" fill="#00BFFF" stroke="#000" stroke-width="0.8"/>
<circle cx="460.2" cy="465.6" r="2.05" fill="#32CD32" stroke="#000" stroke-width="0.8"/>
<polygon points="475,450 474.7,448.3 475.1,446.7 474.7,445 475.4,443.3 475,441.7 475,440 475.1,438.3 476.2,436.8 476.4,435.1 476.8,433.4 476.9,431.7 477,430 476.6,428.3 476.8,426.7 476.6,425 477.4,423.3 476.3,421.7 477.4,420 476.5,418.3 476.7,416.7 477.2,415 477.2,413.3 477,411.7 477,410 477,408.3 477,406.7 477,405 476.2,403.4 476.4,401.7 476,400 476.7,398.3 476.3,396.7 476.5,395 476.4,393.2 476.7,391.5 477.9,389.8 477.5,388 477.8,386.3 479,385 482,385 482,386.8 482.5,388.5 483.5,390 484,391.6 483.2,393.4 484.2,395 483.6,396.7 484.4,398.3 484,400 484.4,401.6 484.3,403.3 484.7,405 484.2,406.7 484.6,408.4 485,410 485.8,411.6 485.3,413.3 486.1,414.9 486.1,416.6 486,418.3 486,420 486.5,422 486.5,424 486.8,426 487.8,426 488.5,424.3 488.2,422.5 487.9,420.8 488.4,419 487.5,417.2 488.3,415.5 488.6,413.8 488,412 488.9,410.3 488.5,408.5 488.9,406.8 489,405 489.9,402.9 491,401 492.5,401.9 494,403 493.6,404.8 495,406.4 494.3,408.3 495,410 495.5,411.6 495.1,413.3 495.2,415 496,416.6 495.4,418.3 495.5,420 496.2,421.6 494.9,423.2 494.9,424.8 495.4,426.4 495.5,428 495.4,429.9 495.8,431.7 496.8,433.3 497.3,435.1 497,437 497.2,438.7 497.1,440.5 497,442.2 496.8,443.9 496.6,445.6 496.9,447.4 497.7,449.1 497.2,450.8 496.8,452.5 496.5,454.3 497,456 495.7,457 493.9,458 491.8,457.4 490,458 488,458.2 486,458.6 484,458.5 482,457.8 480,458.5 478,458 476,456.5 475.4,454.9 475.6,453.2 475.5,451.6" fill="#00FF00" stroke="#000" stroke-width="1.2"/>
<polygon points="475,450 474.7,448.3 475.1,446.7 474.7,445 475.4,443.3 475,441.7 475,440 475.1,438.3 476.2,436.8 476.4,435.1 476.8,433.4 476.9,431.7 477,430 476.6,428.3 476.8,426.7 476.6,425 477.4,423.3 476.3,421.7 477.4,420 476.5,418.3 476.7,416.7 477.2,415 477.2,413.3 477,411.7 477,410 477,408.3 477,406.7 477,405 476.2,403.4 476.4,401.7 476,400 476.7,398.3 476.3,396.7 476.5,395 476.4,393.2 476.7,391.5 477.9,389.8 477.5,388 477.8,386.3 479,385 482,385 482,386.8 482.5,388.5 483.5,390 484,391.6 483.2,393.4 484.2,395 483.6,396.7 484.4,398.3 484,400 484.4,401.6 484.3,403.3 484.7,405 484.2,406.7 484.6,408.4 485,410 485.8,411.6 485.3,413.3 486.1,414.9 486.1,416.6 486,418.3 486,420 486.5,422 486.5,424 486.8,426 487.8,426 488.5,424.3 488.2,422.5 487.9,420.8 488.4,419 487.5,417.2 488.3,415.5 488.6,413.8 488,412 488.9,410.3 488.5,408.5 488.9,406.8 489,405 489.9,402.9 491,401 492.5,401.9 494,403 493.6,404.8 495,406.4 494.3,408.3 495,410 495.5,411.6 495.1,413.3 495.2,415 496,416.6 495.4,418.3 495.5,420 496.2,421.6 494.9,423.2 494.9,424.8 495.4,426.4 495.5,428 495.4,429.9 495.8,431.7 496.8,433.3 497.3,435.1 497,437 497.2,438.7 497.1,440.5 497,442.2 496.8,443.9 496.6,445.6 496.9,447.4 497.7,449.1 497.2,450.8 496.8,452.5 496.5,454.3 497,456 495.7,457 493.9,458 491.8,457.4 490,458 488,458.2 486,458.6 484,458.5 482,457.8 480,458.5 478,458 476,456.5 475.4,454.9 475.6,453.2 475.5,451.6" fill="url(#spk)" stroke="none"/>
<polygon points="475,450 474.7,448.3 475.1,446.7 474.7,445 475.4,443.3 475,441.7 475,440 475.1,438.3 476.2,436.8 476.4,435.1 476.8,433.4 476.9,431.7 477,430 476.6,428.3 476.8,426.7 476.6,425 477.4,423.3 476.3,421.7 477.4,420 476.5,418.3 476.7,416.7 477.2,415 477.2,413.3 477,411.7 477,410 477,408.3 477,406.7 477,405 476.2,403.4 476.4,401.7 476,400 476.7,398.3 476.3,396.7 476.5,395 476.4,393.2 476.7,391.5 477.9,389.8 477.5,388 477.8,386.3 479,385 482,385 482,386.8 482.5,388.5 483.5,390 484,391.6 483.2,393.4 484.2,395 483.6,396.7 484.4,398.3 484,400 484.4,401.6 484.3,403.3 484.7,405 484.2,406.7 484.6,408.4 485,410 485.8,411.6 485.3,413.3 486.1,414.9 486.1,416.6 486,418.3 486,420 486.5,422 486.5,424 486.8,426 487.8,426 488.5,424.3 488.2,422.5 487.9,420.8 488.4,419 487.5,417.2 488.3,415.5 488.6,413.8 488,412 488.9,410.3 488.5,408.5 488.9,406.8 489,405 489.9,402.9 491,401 492.5,401.9 494,403 493.6,404.8 495,406.4 494.3,408.3 495,410 495.5,411.6 495.1,413.3 495.2,415 496,416.6 495.4,418.3 495.5,420 496.2,421.6 494.9,423.2 494.9,424.8 495.4,426.4 495.5,428 495.4,429.9 495.8,431.7 496.8,433.3 497.3,435.1 497,437 497.2,438.7 497.1,440.5 497,442.2 496.8,443.9 496.6,445.6 496.9,447.4 497.7,449.1 497.2,450.8 496.8,452.5 496.5,454.3 497,456 495.7,457 493.9,458 491.8,457.4 490,458 488,458.2 486,458.6 484,458.5 482,457.8 480,458.5 478,458 476,456.5 475.4,454.9 475.6,453.2 475.5,451.6" fill="url(#spk2)" stroke="none"/>
<circle cx="480.5" cy="385" r="2.05" fill="#00FF00" stroke="#000" stroke-width="0.8"/>
<circle cx="482.5" cy="385" r="2.05" fill="#00FF00" stroke="#000" stroke-width="0.8"/>
<circle cx="490.6" cy="391" r="2.05" fill="#00FF00" stroke="#000" stroke-width="0.8"/>
<circle cx="490.6" cy="395" r="2.05" fill="#00FF00" stroke="#000" stroke-width="0.8"/>
<circle cx="493.1" cy="402.6" r="2.05" fill="#00FF00" stroke="#000" stroke-width="0.8"/>
<circle cx="493.1" cy="407.7" r="2.05" fill="#00FF00" stroke="#000" stroke-width="0.8"/>
<circle cx="486" cy="404" r="2.05" fill="#00FF00" stroke="#000" stroke-width="0.8"/>
<circle cx="487" cy="412" r="2.05" fill="#00FF00" stroke="#000" stroke-width="0.8"/>
<polygon points="496.5,440 496.4,438.2 497,436.6 496.4,434.7 497.9,433.1 497.9,431.4 497.6,429.6 499.7,430.9 502.1,430.8 504.2,431.1 506,432.1 507.8,432.1 509.6,432.4 511.1,433.4 512.7,434.4 514.2,435.5 515,437.3 515,439.1 515.7,440.9 515.3,442.8 515.7,444.6 516.3,446.3 517.1,447.8 517.9,449.3 518,451 518.9,452.8 520,454.5 520.1,456.6 520,458.3 520.7,459.9 520.8,461.6 519.9,463.3 520.5,465 520.4,466.8 519.5,468.5 519.2,470.3 519.5,472.2 519.5,474 519.6,476 519.5,478 519.2,479.9 518.6,481.8 516,481 513.9,480.4 513.8,478.6 513,476.9 512.3,475.3 511.4,473.6 511.4,471.8 511.2,470 509.8,468.5 508.6,466.8 506.9,466.3 505.8,465 504.5,464 503.3,462.8 502.1,461.7 500.8,460.4 499.6,459.1 498.6,457.5 497,456.6 496.7,454.9 496.3,453.3 496.6,451.6 496.4,450 496.9,448.3 496.7,446.6 496.4,445 496,443.3 496.9,441.6" fill="#FFFF00" stroke="#000" stroke-width="1.2"/>
<polygon points="496.5,440 496.4,438.2 497,436.6 496.4,434.7 497.9,433.1 497.9,431.4 497.6,429.6 499.7,430.9 502.1,430.8 504.2,431.1 506,432.1 507.8,432.1 509.6,432.4 511.1,433.4 512.7,434.4 514.2,435.5 515,437.3 515,439.1 515.7,440.9 515.3,442.8 515.7,444.6 516.3,446.3 517.1,447.8 517.9,449.3 518,451 518.9,452.8 520,454.5 520.1,456.6 520,458.3 520.7,459.9 520.8,461.6 519.9,463.3 520.5,465 520.4,466.8 519.5,468.5 519.2,470.3 519.5,472.2 519.5,474 519.6,476 519.5,478 519.2,479.9 518.6,481.8 516,481 513.9,480.4 513.8,478.6 513,476.9 512.3,475.3 511.4,473.6 511.4,471.8 511.2,470 509.8,468.5 508.6,466.8 506.9,466.3 505.8,465 504.5,464 503.3,462.8 502.1,461.7 500.8,460.4 499.6,459.1 498.6,457.5 497,456.6 496.7,454.9 496.3,453.3 496.6,451.6 496.4,450 496.9,448.3 496.7,446.6 496.4,445 496,443.3 496.9,441.6" fill="url(#spk)" stroke="none"/>
<circle cx="508.3" cy="389.1" r="2.05" fill="#FFFF00" stroke="#000" stroke-width="0.8"/>
<circle cx="508.3" cy="397.4" r="2.05" fill="#FFFF00" stroke="#000" stroke-width="0.8"/>
<circle cx="508.3" cy="409" r="2.05" fill="#FFFF00" stroke="#000" stroke-width="0.8"/>
<circle cx="503.4" cy="411.6" r="2.05" fill="#FFFF00" stroke="#000" stroke-width="0.8"/>
<circle cx="504.5" cy="413" r="2.05" fill="#FFFF00" stroke="#000" stroke-width="0.8"/>
<circle cx="502.1" cy="416.7" r="2.05" fill="#FFFF00" stroke="#000" stroke-width="0.8"/>
<circle cx="502.8" cy="421.8" r="2.05" fill="#FFFF00" stroke="#000" stroke-width="0.8"/>
<circle cx="502.8" cy="424.4" r="2.05" fill="#FFFF00" stroke="#000" stroke-width="0.8"/>
<circle cx="508.6" cy="416.7" r="2.05" fill="#FFFF00" stroke="#000" stroke-width="0.8"/>
<circle cx="510" cy="419" r="2.05" fill="#FFFF00" stroke="#000" stroke-width="0.8"/>
<circle cx="512.4" cy="420.6" r="2.05" fill="#FFFF00" stroke="#000" stroke-width="0.8"/>
<circle cx="508.6" cy="427" r="2.05" fill="#FFFF00" stroke="#000" stroke-width="0.8"/>
<circle cx="513.7" cy="430.8" r="2.05" fill="#FFFF00" stroke="#000" stroke-width="0.8"/>
<circle cx="499" cy="427" r="2.05" fill="#FFFF00" stroke="#000" stroke-width="0.8"/>
<circle cx="505" cy="426" r="2.05" fill="#FFFF00" stroke="#000" stroke-width="0.8"/>
<polygon points="519,458 520,456.5 521.6,457.6 523,459 524.9,459.8 526.3,461.3 527.9,462.9 530,463.5 531.8,464.4 533.8,465 535.4,465.5 537,466 538.8,466.4 540.7,466.3 540.3,468.2 540.6,470.1 541,472 540.1,475 538.4,475 537,474 535,476 532.6,476 531.9,473.6 530,472 528,474 526.8,475.4 525,476 523.4,474.8 522.5,473 520.9,472.1 520,470.5 519.7,468.7 520,466.9 519.1,465.2 519,463.4 519.2,461.6 519.6,459.7" fill="#FF8C00" stroke="#000" stroke-width="1.2"/>
<polygon points="519,458 520,456.5 521.6,457.6 523,459 524.9,459.8 526.3,461.3 527.9,462.9 530,463.5 531.8,464.4 533.8,465 535.4,465.5 537,466 538.8,466.4 540.7,466.3 540.3,468.2 540.6,470.1 541,472 540.1,475 538.4,475 537,474 535,476 532.6,476 531.9,473.6 530,472 528,474 526.8,475.4 525,476 523.4,474.8 522.5,473 520.9,472.1 520,470.5 519.7,468.7 520,466.9 519.1,465.2 519,463.4 519.2,461.6 519.6,459.7" fill="url(#spk)" stroke="none"/>
<polyline points="541,468.5 550,468.7 557.7,468.2 564,470.5" fill="none" stroke="#000" stroke-width="5.6"/>
<polyline points="541,468.5 550,468.7 557.7,468.2 564,470.5" fill="none" stroke="#FF4500" stroke-width="3.8"/>
<polyline points="563.5,470.5 567.5,473.5 570,471 573,471 575,476 577.7,472.5 582,473 585.3,477" fill="none" stroke="#000" stroke-width="5.8"/>
<polyline points="563.5,470.5 567.5,473.5 570,471 573,471 575,476 577.7,472.5 582,473 585.3,477" fill="none" stroke="#FF0000" stroke-width="4"/>
<polyline points="585.3,478.5 590,479 593,484 600,488 605,492 609,495.5" fill="none" stroke="#000" stroke-width="6.8"/>
<polyline points="585.3,478.5 590,479 593,484 600,488 605,492 609,495.5" fill="none" stroke="#8B4513" stroke-width="5"/>
<polyline points="609.1,497.4 612,494 616,490.8 619,491.2 622.8,491.9 625,494.5 627.6,498.5 630.3,495.3" fill="none" stroke="#000" stroke-width="6.4"/>
<polyline points="609.1,497.4 612,494 616,490.8 619,491.2 622.8,491.9 625,494.5 627.6,498.5 630.3,495.3" fill="none" stroke="#000000" stroke-width="4.6"/>
<polyline points="630.3,495.3 633,496.5 636.5,498.7 641.3,501.3 646,496.7 650.8,498" fill="none" stroke="#000" stroke-width="6"/>
<polyline points="630.3,495.3 633,496.5 636.5,498.7 641.3,501.3 646,496.7 650.8,498" fill="none" stroke="#483D8B" stroke-width="4.2"/>
<polyline points="650.8,498 653,500 659.7,506.7 665.2,500.8 672,504.2 675.5,509" fill="none" stroke="#000" stroke-width="6"/>
<polyline points="650.8,498 653,500 659.7,506.7 665.2,500.8 672,504.2 675.5,509" fill="none" stroke="#0000FF" stroke-width="4.2"/>
<polyline points="675.3,508.8 681.6,508.3 687.1,504.9 692.6,500.8 696,498.7" fill="none" stroke="#000" stroke-width="6"/>
<polyline points="675.3,508.8 681.6,508.3 687.1,504.9 692.6,500.8 696,498.7" fill="none" stroke="#00BFFF" stroke-width="4.2"/>
<polyline points="696,498.7 703.5,492.6 709,489.2 711.7,484.6 718.5,481" fill="none" stroke="#000" stroke-width="6.2"/>
<polyline points="696,498.7 703.5,492.6 709,489.2 711.7,484.6 718.5,481" fill="none" stroke="#00FFFF" stroke-width="4.4"/>
<polyline points="718.5,481 722,478.5 725.3,476 727,473.5 728.1,471" fill="none" stroke="#000" stroke-width="5.8"/>
<polyline points="718.5,481 722,478.5 725.3,476 727,473.5 728.1,471" fill="none" stroke="#32CD32" stroke-width="4"/>
<circle cx="729.4" cy="466.3" r="2.05" fill="#32CD32" stroke="#000" stroke-width="0.8"/>
<polyline points="730.5,460.2 737.5,460.2" fill="none" stroke="#000" stroke-width="5.2"/>
<polyline points="730.5,460.2 737.5,460.2" fill="none" stroke="#32CD32" stroke-width="3.4"/>
<circle cx="757.1" cy="385.6" r="2.05" fill="#00FF00" stroke="#000" stroke-width="0.8"/>
<circle cx="757.1" cy="389" r="2.05" fill="#00FF00" stroke="#000" stroke-width="0.8"/>
<circle cx="757.1" cy="392.5" r="2.05" fill="#00FF00" stroke="#000" stroke-width="0.8"/>
<circle cx="757.1" cy="396" r="2.05" fill="#00FF00" stroke="#000" stroke-width="0.8"/>
<circle cx="757.1" cy="399.5" r="2.05" fill="#00FF00" stroke="#000" stroke-width="0.8"/>
<circle cx="757.1" cy="403" r="2.05" fill="#00FF00" stroke="#000" stroke-width="0.8"/>
<circle cx="757.1" cy="406.5" r="2.05" fill="#00FF00" stroke="#000" stroke-width="0.8"/>
<circle cx="757.1" cy="409.7" r="2.05" fill="#00FF00" stroke="#000" stroke-width="0.8"/>
<circle cx="760.8" cy="394" r="2.05" fill="#00FF00" stroke="#000" stroke-width="0.8"/>
<polygon points="756.1,416.2 758,415 759,416.5 760,418 760.8,419.5 760.2,421.5 761.1,423 761.7,424.6 762,426.4 762,428.3 763,430 763.8,431.8 763,433.8 763.6,435.7 764.1,437.5 764.1,439.4 764.1,441.3 763.6,443.2 764,445 763.3,446.8 763.6,448.7 764.1,450.6 764.3,452.4 764,454.3 763.6,456.1 761,457 758,456 756.7,457.3 755,458 752.4,458.5 751.3,456.7 750.2,455 750.5,453.3 750.2,451.6 751,450 751.1,448.2 752.5,446.7 752.7,444.9 752.4,442.9 753.4,441.3 753.9,439.7 753.3,438.1 753.2,436.5 753.8,434.8 753.7,433.2 753.3,431.6 753.4,430 753.2,428.2 753.5,426.4 753.9,424.5 753.7,422.7 753.4,420.9 753.8,419 754.6,417.4" fill="#00FF00" stroke="#000" stroke-width="1.2"/>
<polygon points="756.1,416.2 758,415 759,416.5 760,418 760.8,419.5 760.2,421.5 761.1,423 761.7,424.6 762,426.4 762,428.3 763,430 763.8,431.8 763,433.8 763.6,435.7 764.1,437.5 764.1,439.4 764.1,441.3 763.6,443.2 764,445 763.3,446.8 763.6,448.7 764.1,450.6 764.3,452.4 764,454.3 763.6,456.1 761,457 758,456 756.7,457.3 755,458 752.4,458.5 751.3,456.7 750.2,455 750.5,453.3 750.2,451.6 751,450 751.1,448.2 752.5,446.7 752.7,444.9 752.4,442.9 753.4,441.3 753.9,439.7 753.3,438.1 753.2,436.5 753.8,434.8 753.7,433.2 753.3,431.6 753.4,430 753.2,428.2 753.5,426.4 753.9,424.5 753.7,422.7 753.4,420.9 753.8,419 754.6,417.4" fill="url(#spk)" stroke="none"/>
<polygon points="756.1,416.2 758,415 759,416.5 760,418 760.8,419.5 760.2,421.5 761.1,423 761.7,424.6 762,426.4 762,428.3 763,430 763.8,431.8 763,433.8 763.6,435.7 764.1,437.5 764.1,439.4 764.1,441.3 763.6,443.2 764,445 763.3,446.8 763.6,448.7 764.1,450.6 764.3,452.4 764,454.3 763.6,456.1 761,457 758,456 756.7,457.3 755,458 752.4,458.5 751.3,456.7 750.2,455 750.5,453.3 750.2,451.6 751,450 751.1,448.2 752.5,446.7 752.7,444.9 752.4,442.9 753.4,441.3 753.9,439.7 753.3,438.1 753.2,436.5 753.8,434.8 753.7,433.2 753.3,431.6 753.4,430 753.2,428.2 753.5,426.4 753.9,424.5 753.7,422.7 753.4,420.9 753.8,419 754.6,417.4" fill="url(#spk2)" stroke="none"/>
<polygon points="764.5,437.6 767,438 768.7,438.6 770,439.8 771,441.3 771.5,443.2 772.2,445 772,447 771.7,448.9 773.2,450.5 772.9,452.4 774.7,453.4 776.6,454.3 778.9,453.6 781.2,453.4 784,453.5 785.9,454.3 785.6,456.3 786.8,458.1 786.5,460 786.6,462 786.4,464 786,466 785.3,468.2 784,470 782.1,471 780.1,471.9 778,471.5 775.9,471.3 773.8,471 772.4,469.8 772,467.9 770.4,466.8 770,465 768.8,463.5 767.9,461.7 767,460 766.7,457.8 765.4,456.1 764.4,454.2 764,452.1 764,450 764.5,448.2 763.5,446.4 764.8,444.7 764.4,442.9 764,441.1 764.9,439.4" fill="#FFFF00" stroke="#000" stroke-width="1.2"/>
<polygon points="764.5,437.6 767,438 768.7,438.6 770,439.8 771,441.3 771.5,443.2 772.2,445 772,447 771.7,448.9 773.2,450.5 772.9,452.4 774.7,453.4 776.6,454.3 778.9,453.6 781.2,453.4 784,453.5 785.9,454.3 785.6,456.3 786.8,458.1 786.5,460 786.6,462 786.4,464 786,466 785.3,468.2 784,470 782.1,471 780.1,471.9 778,471.5 775.9,471.3 773.8,471 772.4,469.8 772,467.9 770.4,466.8 770,465 768.8,463.5 767.9,461.7 767,460 766.7,457.8 765.4,456.1 764.4,454.2 764,452.1 764,450 764.5,448.2 763.5,446.4 764.8,444.7 764.4,442.9 764,441.1 764.9,439.4" fill="url(#spk)" stroke="none"/>
<circle cx="765.4" cy="423.6" r="2.05" fill="#FFFF00" stroke="#000" stroke-width="0.8"/>
<circle cx="769.1" cy="431.1" r="2.05" fill="#FFFF00" stroke="#000" stroke-width="0.8"/>
<circle cx="766.4" cy="433.9" r="2.05" fill="#FFFF00" stroke="#000" stroke-width="0.8"/>
<polyline points="782.1,472 782.1,486.8" fill="none" stroke="#000" stroke-width="5.2"/>
<polyline points="782.1,472 782.1,486.8" fill="none" stroke="#FFFF00" stroke-width="3.4"/>
<polygon points="786.8,457 787.8,458.7 789.2,460.2 790,462 790.8,463.9 791.8,465.8 793.3,467.3 796,466 798.9,465.4 799.6,463.8 800,462 800.7,459.6 802.6,458 803.2,459.7 803.4,461.5 802.8,463.4 803.7,465 803.5,466.6 803.7,468.2 803.5,469.9 804.3,471.5 803.4,473.1 803.5,474.8 804.1,476.4 803.7,478 802.5,479.2 801,480 801.1,481.7 800.4,483.3 801.2,485 801.7,486.7 800.6,488.3 801,490 799.8,491.4 799.8,493.3 798.9,494.8 796,494 795.9,491.7 795.1,489.6 794.6,487.7 792.9,486.6 792,485 791.7,483.3 791.1,481.6 790.6,479.9 790.1,478.3 789.6,476.6 789.4,474.8 788.8,473.1 788.2,471.4 787,470 786.5,468.4 787.4,466.7 786.4,465.1 786.4,463.5 786.4,461.9 786.3,460.3 786.7,458.6" fill="#FF8C00" stroke="#000" stroke-width="1.2"/>
<polygon points="786.8,457 787.8,458.7 789.2,460.2 790,462 790.8,463.9 791.8,465.8 793.3,467.3 796,466 798.9,465.4 799.6,463.8 800,462 800.7,459.6 802.6,458 803.2,459.7 803.4,461.5 802.8,463.4 803.7,465 803.5,466.6 803.7,468.2 803.5,469.9 804.3,471.5 803.4,473.1 803.5,474.8 804.1,476.4 803.7,478 802.5,479.2 801,480 801.1,481.7 800.4,483.3 801.2,485 801.7,486.7 800.6,488.3 801,490 799.8,491.4 799.8,493.3 798.9,494.8 796,494 795.9,491.7 795.1,489.6 794.6,487.7 792.9,486.6 792,485 791.7,483.3 791.1,481.6 790.6,479.9 790.1,478.3 789.6,476.6 789.4,474.8 788.8,473.1 788.2,471.4 787,470 786.5,468.4 787.4,466.7 786.4,465.1 786.4,463.5 786.4,461.9 786.3,460.3 786.7,458.6" fill="url(#spk)" stroke="none"/>
<circle cx="804.4" cy="459.7" r="2.05" fill="#FF8C00" stroke="#000" stroke-width="0.8"/>
<polyline points="806.3,466.6 808.5,464.5 811.4,463.1 813,465 814.9,467.4 815.7,473.4 817.5,470.5 819.1,468.3 821.5,470.5 823.8,473.4" fill="none" stroke="#000" stroke-width="5.2"/>
<polyline points="806.3,466.6 808.5,464.5 811.4,463.1 813,465 814.9,467.4 815.7,473.4 817.5,470.5 819.1,468.3 821.5,470.5 823.8,473.4" fill="none" stroke="#FF4500" stroke-width="3.4"/>
</g>
<rect x="83.5" y="383.5" width="775.0" height="234.0" fill="none" stroke="#000" stroke-width="1.33"/>
<line x1="105.5" y1="617.5" x2="105.5" y2="623.33" stroke="#000" stroke-width="1.33"/>
<text transform="translate(111.53,629.64) rotate(-85)" text-anchor="end" class="xt">02/08/14</text>
<line x1="125.5" y1="617.5" x2="125.5" y2="623.33" stroke="#000" stroke-width="1.33"/>
<text transform="translate(131.93,629.64) rotate(-85)" text-anchor="end" class="xt">03/08/14</text>
<line x1="147.5" y1="617.5" x2="147.5" y2="623.33" stroke="#000" stroke-width="1.33"/>
<text transform="translate(154.51,629.64) rotate(-85)" text-anchor="end" class="xt">04/08/14</text>
<line x1="169.5" y1="617.5" x2="169.5" y2="623.33" stroke="#000" stroke-width="1.33"/>
<text transform="translate(176.36,629.64) rotate(-85)" text-anchor="end" class="xt">05/08/14</text>
<line x1="192.5" y1="617.5" x2="192.5" y2="623.33" stroke="#000" stroke-width="1.33"/>
<text transform="translate(198.94,629.64) rotate(-85)" text-anchor="end" class="xt">06/08/14</text>
<line x1="214.5" y1="617.5" x2="214.5" y2="623.33" stroke="#000" stroke-width="1.33"/>
<text transform="translate(220.79,629.64) rotate(-85)" text-anchor="end" class="xt">07/08/14</text>
<line x1="236.5" y1="617.5" x2="236.5" y2="623.33" stroke="#000" stroke-width="1.33"/>
<text transform="translate(243.37,629.64) rotate(-85)" text-anchor="end" class="xt">08/08/14</text>
<line x1="259.5" y1="617.5" x2="259.5" y2="623.33" stroke="#000" stroke-width="1.33"/>
<text transform="translate(265.95,629.64) rotate(-85)" text-anchor="end" class="xt">09/08/14</text>
<line x1="281.5" y1="617.5" x2="281.5" y2="623.33" stroke="#000" stroke-width="1.33"/>
<text transform="translate(287.80,629.64) rotate(-85)" text-anchor="end" class="xt">10/08/14</text>
<line x1="303.5" y1="617.5" x2="303.5" y2="623.33" stroke="#000" stroke-width="1.33"/>
<text transform="translate(310.37,629.64) rotate(-85)" text-anchor="end" class="xt">11/08/14</text>
<line x1="325.5" y1="617.5" x2="325.5" y2="623.33" stroke="#000" stroke-width="1.33"/>
<text transform="translate(332.23,629.64) rotate(-85)" text-anchor="end" class="xt">12/08/14</text>
<line x1="348.5" y1="617.5" x2="348.5" y2="623.33" stroke="#000" stroke-width="1.33"/>
<text transform="translate(354.80,629.64) rotate(-85)" text-anchor="end" class="xt">01/08/15</text>
<line x1="370.5" y1="617.5" x2="370.5" y2="623.33" stroke="#000" stroke-width="1.33"/>
<text transform="translate(377.38,629.64) rotate(-85)" text-anchor="end" class="xt">02/08/15</text>
<line x1="391.5" y1="617.5" x2="391.5" y2="623.33" stroke="#000" stroke-width="1.33"/>
<text transform="translate(397.78,629.64) rotate(-85)" text-anchor="end" class="xt">03/08/15</text>
<line x1="413.5" y1="617.5" x2="413.5" y2="623.33" stroke="#000" stroke-width="1.33"/>
<text transform="translate(420.36,629.64) rotate(-85)" text-anchor="end" class="xt">04/08/15</text>
<line x1="435.5" y1="617.5" x2="435.5" y2="623.33" stroke="#000" stroke-width="1.33"/>
<text transform="translate(442.21,629.64) rotate(-85)" text-anchor="end" class="xt">05/08/15</text>
<line x1="458.5" y1="617.5" x2="458.5" y2="623.33" stroke="#000" stroke-width="1.33"/>
<text transform="translate(464.78,629.64) rotate(-85)" text-anchor="end" class="xt">06/08/15</text>
<line x1="480.5" y1="617.5" x2="480.5" y2="623.33" stroke="#000" stroke-width="1.33"/>
<text transform="translate(486.64,629.64) rotate(-85)" text-anchor="end" class="xt">07/08/15</text>
<line x1="502.5" y1="617.5" x2="502.5" y2="623.33" stroke="#000" stroke-width="1.33"/>
<text transform="translate(509.21,629.64) rotate(-85)" text-anchor="end" class="xt">08/08/15</text>
<line x1="525.5" y1="617.5" x2="525.5" y2="623.33" stroke="#000" stroke-width="1.33"/>
<text transform="translate(531.79,629.64) rotate(-85)" text-anchor="end" class="xt">09/08/15</text>
<line x1="547.5" y1="617.5" x2="547.5" y2="623.33" stroke="#000" stroke-width="1.33"/>
<text transform="translate(553.64,629.64) rotate(-85)" text-anchor="end" class="xt">10/08/15</text>
<line x1="569.5" y1="617.5" x2="569.5" y2="623.33" stroke="#000" stroke-width="1.33"/>
<text transform="translate(576.22,629.64) rotate(-85)" text-anchor="end" class="xt">11/08/15</text>
<line x1="591.5" y1="617.5" x2="591.5" y2="623.33" stroke="#000" stroke-width="1.33"/>
<text transform="translate(598.07,629.64) rotate(-85)" text-anchor="end" class="xt">12/08/15</text>
<line x1="614.5" y1="617.5" x2="614.5" y2="623.33" stroke="#000" stroke-width="1.33"/>
<text transform="translate(620.65,629.64) rotate(-85)" text-anchor="end" class="xt">01/08/16</text>
<line x1="636.5" y1="617.5" x2="636.5" y2="623.33" stroke="#000" stroke-width="1.33"/>
<text transform="translate(643.23,629.64) rotate(-85)" text-anchor="end" class="xt">02/08/16</text>
<line x1="657.5" y1="617.5" x2="657.5" y2="623.33" stroke="#000" stroke-width="1.33"/>
<text transform="translate(664.35,629.64) rotate(-85)" text-anchor="end" class="xt">03/08/16</text>
<line x1="680.5" y1="617.5" x2="680.5" y2="623.33" stroke="#000" stroke-width="1.33"/>
<text transform="translate(686.93,629.64) rotate(-85)" text-anchor="end" class="xt">04/08/16</text>
<line x1="702.5" y1="617.5" x2="702.5" y2="623.33" stroke="#000" stroke-width="1.33"/>
<text transform="translate(708.78,629.64) rotate(-85)" text-anchor="end" class="xt">05/08/16</text>
<line x1="724.5" y1="617.5" x2="724.5" y2="623.33" stroke="#000" stroke-width="1.33"/>
<text transform="translate(731.36,629.64) rotate(-85)" text-anchor="end" class="xt">06/08/16</text>
<line x1="746.5" y1="617.5" x2="746.5" y2="623.33" stroke="#000" stroke-width="1.33"/>
<text transform="translate(753.21,629.64) rotate(-85)" text-anchor="end" class="xt">07/08/16</text>
<line x1="769.5" y1="617.5" x2="769.5" y2="623.33" stroke="#000" stroke-width="1.33"/>
<text transform="translate(775.79,629.64) rotate(-85)" text-anchor="end" class="xt">08/08/16</text>
<line x1="791.5" y1="617.5" x2="791.5" y2="623.33" stroke="#000" stroke-width="1.33"/>
<text transform="translate(798.37,629.64) rotate(-85)" text-anchor="end" class="xt">09/08/16</text>
<line x1="813.5" y1="617.5" x2="813.5" y2="623.33" stroke="#000" stroke-width="1.33"/>
<text transform="translate(820.22,629.64) rotate(-85)" text-anchor="end" class="xt">10/08/16</text>
<line x1="836.5" y1="617.5" x2="836.5" y2="623.33" stroke="#000" stroke-width="1.33"/>
<text transform="translate(842.80,629.64) rotate(-85)" text-anchor="end" class="xt">11/08/16</text>
<line x1="858.5" y1="617.5" x2="858.5" y2="623.33" stroke="#000" stroke-width="1.33"/>
<text transform="translate(864.65,629.64) rotate(-85)" text-anchor="end" class="xt">12/08/16</text>
<line x1="77.67" y1="617.5" x2="83.5" y2="617.5" stroke="#000" stroke-width="1.33"/>
<text x="73.40" y="623.30" text-anchor="end" class="yt"><tspan style="letter-spacing:-1.3px">−</tspan>40</text>
<line x1="77.67" y1="578.5" x2="83.5" y2="578.5" stroke="#000" stroke-width="1.33"/>
<text x="73.40" y="584.27" text-anchor="end" class="yt"><tspan style="letter-spacing:-1.3px">−</tspan>30</text>
<line x1="77.67" y1="539.5" x2="83.5" y2="539.5" stroke="#000" stroke-width="1.33"/>
<text x="73.40" y="545.23" text-anchor="end" class="yt"><tspan style="letter-spacing:-1.3px">−</tspan>20</text>
<line x1="77.67" y1="500.5" x2="83.5" y2="500.5" stroke="#000" stroke-width="1.33"/>
<text x="73.40" y="506.20" text-anchor="end" class="yt"><tspan style="letter-spacing:-1.3px">−</tspan>10</text>
<line x1="77.67" y1="461.5" x2="83.5" y2="461.5" stroke="#000" stroke-width="1.33"/>
<text x="73.40" y="467.17" text-anchor="end" class="yt">0</text>
<line x1="77.67" y1="422.5" x2="83.5" y2="422.5" stroke="#000" stroke-width="1.33"/>
<text x="73.40" y="428.13" text-anchor="end" class="yt">10</text>
<line x1="77.67" y1="383.5" x2="83.5" y2="383.5" stroke="#000" stroke-width="1.33"/>
<text x="73.40" y="389.10" text-anchor="end" class="yt">20</text>
<text x="471.05" y="375" text-anchor="middle" class="ti">Surface Temperature 300234011974530  02/26/2014 to 10/21/2016</text>
<text transform="translate(28,501.80) rotate(-90)" text-anchor="middle" class="tk">Surface Temperature</text>
</svg></body></html>
